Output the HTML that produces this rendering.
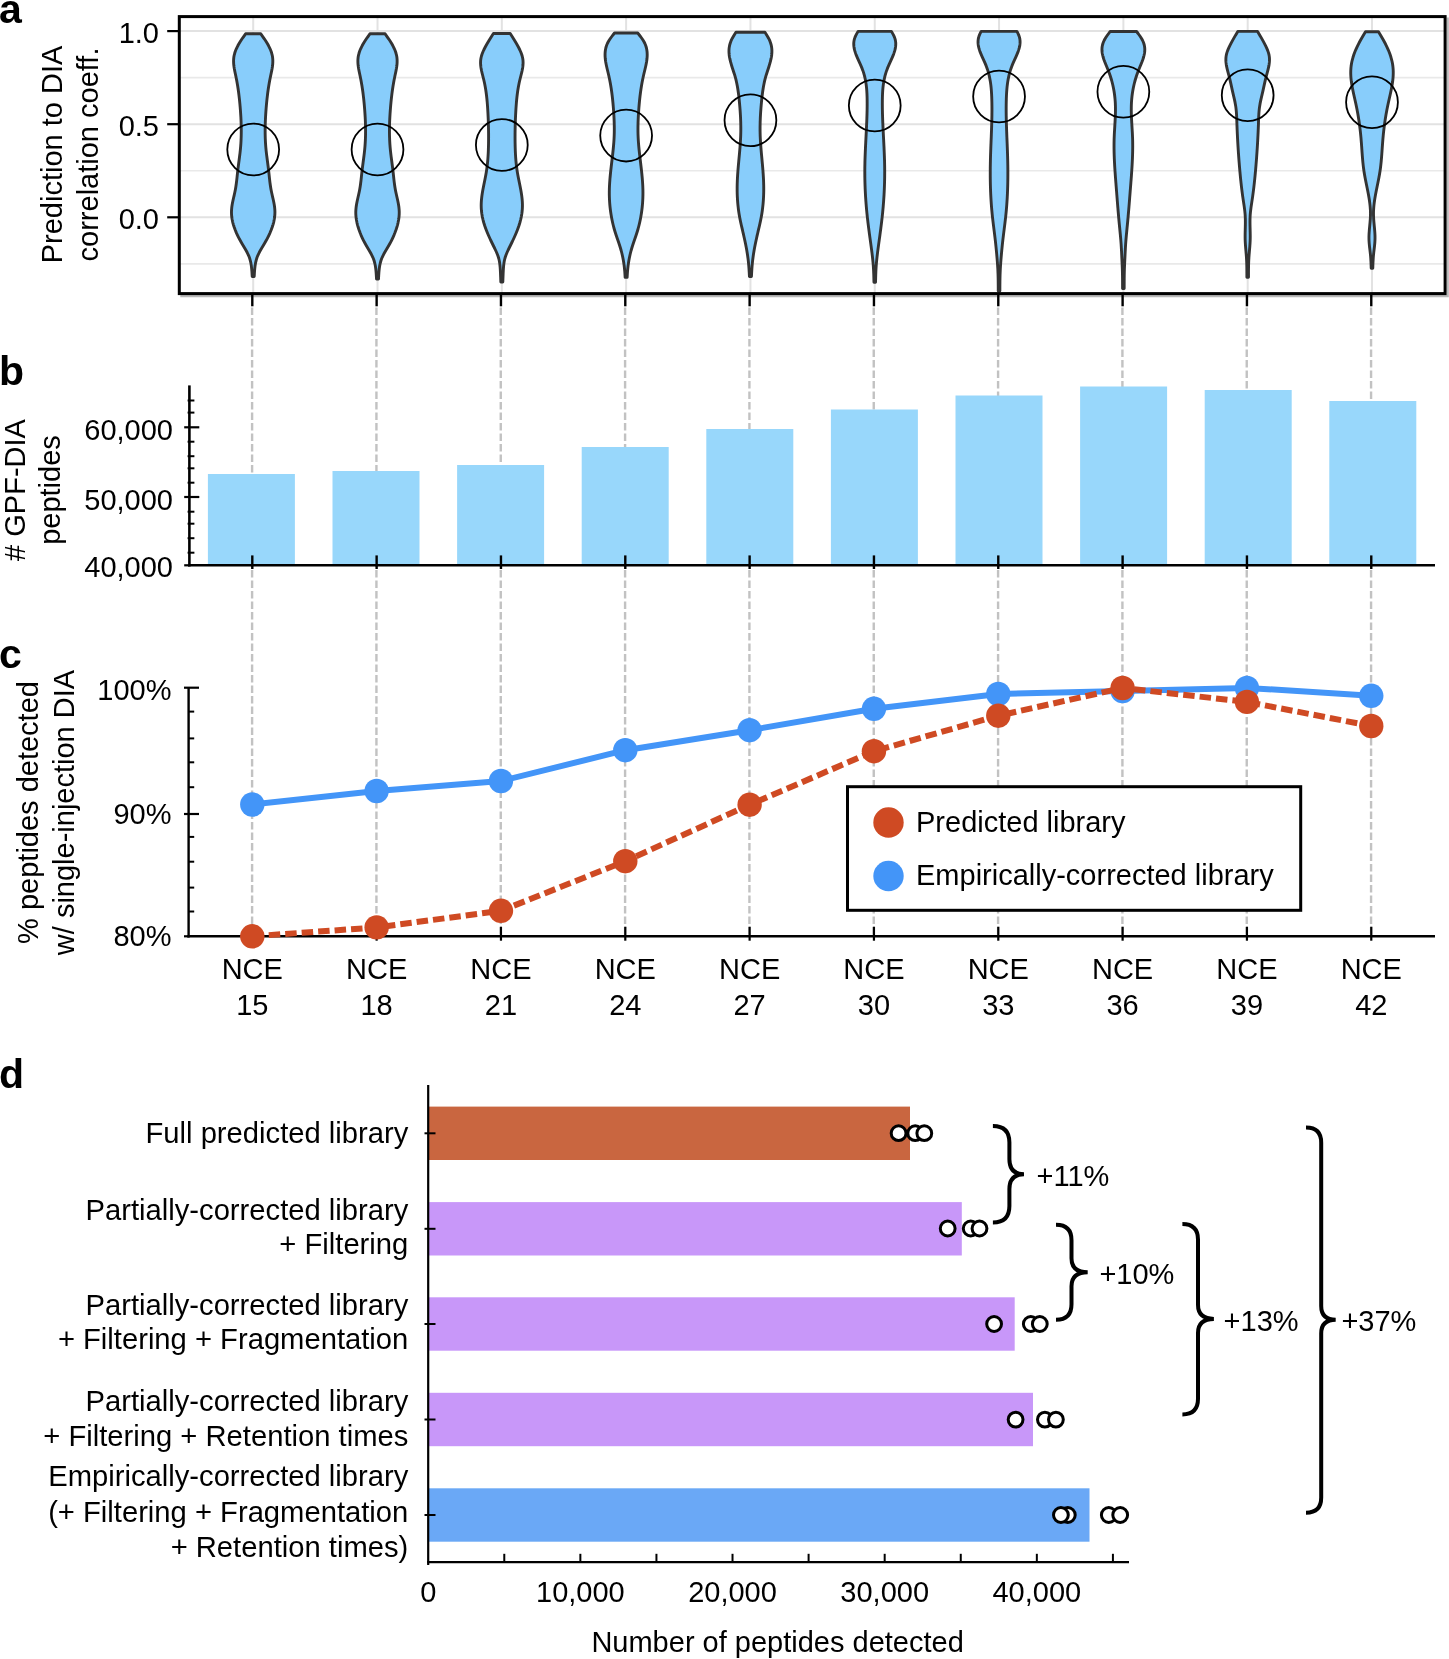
<!DOCTYPE html>
<html><head><meta charset="utf-8"><style>
html,body{margin:0;padding:0;background:#fff;width:1449px;height:1659px;overflow:hidden}
svg{display:block;will-change:transform}
text{font-family:"Liberation Sans", sans-serif;fill:#000}
</style></head><body>
<svg width="1449" height="1659" viewBox="0 0 1449 1659">
<text x="-1" y="22.6" font-size="41" text-anchor="start" font-weight="bold" >a</text>
<text x="-1" y="384.5" font-size="41" text-anchor="start" font-weight="bold" >b</text>
<text x="-1" y="667.8" font-size="41" text-anchor="start" font-weight="bold" >c</text>
<text x="-1" y="1087.5" font-size="41" text-anchor="start" font-weight="bold" >d</text>
<line x1="179.3" y1="31.1" x2="1445.1" y2="31.1" stroke="#e2e2e2" stroke-width="2" />
<line x1="179.3" y1="124.2" x2="1445.1" y2="124.2" stroke="#e2e2e2" stroke-width="2" />
<line x1="179.3" y1="217.3" x2="1445.1" y2="217.3" stroke="#e2e2e2" stroke-width="2" />
<line x1="179.3" y1="77.65" x2="1445.1" y2="77.65" stroke="#e9e9e9" stroke-width="1.6" />
<line x1="179.3" y1="170.75" x2="1445.1" y2="170.75" stroke="#e9e9e9" stroke-width="1.6" />
<line x1="179.3" y1="263.85" x2="1445.1" y2="263.85" stroke="#e9e9e9" stroke-width="1.6" />
<line x1="253.2" y1="16.6" x2="253.2" y2="293.6" stroke="#e2e2e2" stroke-width="2" />
<line x1="377.51" y1="16.6" x2="377.51" y2="293.6" stroke="#e2e2e2" stroke-width="2" />
<line x1="501.82" y1="16.6" x2="501.82" y2="293.6" stroke="#e2e2e2" stroke-width="2" />
<line x1="626.13" y1="16.6" x2="626.13" y2="293.6" stroke="#e2e2e2" stroke-width="2" />
<line x1="750.44" y1="16.6" x2="750.44" y2="293.6" stroke="#e2e2e2" stroke-width="2" />
<line x1="874.75" y1="16.6" x2="874.75" y2="293.6" stroke="#e2e2e2" stroke-width="2" />
<line x1="999.06" y1="16.6" x2="999.06" y2="293.6" stroke="#e2e2e2" stroke-width="2" />
<line x1="1123.37" y1="16.6" x2="1123.37" y2="293.6" stroke="#e2e2e2" stroke-width="2" />
<line x1="1247.68" y1="16.6" x2="1247.68" y2="293.6" stroke="#e2e2e2" stroke-width="2" />
<line x1="1371.99" y1="16.6" x2="1371.99" y2="293.6" stroke="#e2e2e2" stroke-width="2" />
<path d="M260.8,33.8 L261.86,35.3 L262.91,36.8 L263.95,38.3 L264.96,39.8 L265.93,41.3 L266.87,42.8 L267.76,44.3 L268.59,45.8 L269.36,47.3 L270.06,48.8 L270.69,50.3 L271.24,51.8 L271.71,53.3 L272.11,54.8 L272.42,56.3 L272.64,57.8 L272.77,59.3 L272.82,60.8 L272.8,62.3 L272.72,63.8 L272.58,65.3 L272.39,66.8 L272.16,68.3 L271.89,69.8 L271.6,71.3 L271.29,72.8 L270.97,74.3 L270.65,75.8 L270.34,77.3 L270.04,78.8 L269.74,80.3 L269.47,81.8 L269.2,83.3 L268.94,84.8 L268.69,86.3 L268.46,87.8 L268.23,89.3 L268.02,90.8 L267.81,92.3 L267.61,93.8 L267.43,95.3 L267.25,96.8 L267.08,98.3 L266.91,99.8 L266.76,101.3 L266.61,102.8 L266.47,104.3 L266.34,105.8 L266.21,107.3 L266.09,108.8 L265.98,110.3 L265.87,111.8 L265.77,113.3 L265.67,114.8 L265.58,116.3 L265.5,117.8 L265.43,119.3 L265.36,120.8 L265.31,122.3 L265.26,123.8 L265.22,125.3 L265.18,126.8 L265.16,128.3 L265.15,129.8 L265.15,131.3 L265.15,132.8 L265.17,134.3 L265.2,135.8 L265.24,137.3 L265.3,138.8 L265.36,140.3 L265.44,141.8 L265.52,143.3 L265.63,144.8 L265.74,146.3 L265.87,147.8 L266.01,149.3 L266.16,150.8 L266.33,152.3 L266.5,153.8 L266.68,155.3 L266.87,156.8 L267.06,158.3 L267.25,159.8 L267.45,161.3 L267.65,162.8 L267.84,164.3 L268.04,165.8 L268.23,167.3 L268.42,168.8 L268.6,170.3 L268.78,171.8 L268.94,173.3 L269.11,174.8 L269.26,176.3 L269.42,177.8 L269.59,179.3 L269.75,180.8 L269.93,182.3 L270.12,183.8 L270.33,185.3 L270.55,186.8 L270.79,188.3 L271.06,189.8 L271.36,191.3 L271.67,192.8 L272.01,194.3 L272.35,195.8 L272.7,197.3 L273.04,198.8 L273.37,200.3 L273.69,201.8 L273.98,203.3 L274.25,204.8 L274.48,206.3 L274.67,207.8 L274.81,209.3 L274.89,210.8 L274.92,212.3 L274.88,213.8 L274.79,215.3 L274.64,216.8 L274.44,218.3 L274.18,219.8 L273.88,221.3 L273.52,222.8 L273.11,224.3 L272.66,225.8 L272.17,227.3 L271.63,228.8 L271.06,230.3 L270.44,231.8 L269.79,233.3 L269.1,234.8 L268.38,236.3 L267.62,237.8 L266.84,239.3 L266.02,240.8 L265.18,242.3 L264.32,243.8 L263.43,245.3 L262.53,246.8 L261.63,248.3 L260.75,249.8 L259.9,251.3 L259.1,252.8 L258.35,254.3 L257.68,255.8 L257.1,257.3 L256.59,258.8 L256.16,260.3 L255.8,261.8 L255.49,263.3 L255.23,264.8 L255.01,266.3 L254.83,267.8 L254.68,269.3 L254.55,270.8 L254.44,272.3 L254.35,273.8 L254.26,275.3 L254.2,276.5 L252.2,276.5 L252.14,275.3 L252.05,273.8 L251.96,272.3 L251.85,270.8 L251.72,269.3 L251.57,267.8 L251.39,266.3 L251.17,264.8 L250.91,263.3 L250.6,261.8 L250.24,260.3 L249.81,258.8 L249.3,257.3 L248.72,255.8 L248.05,254.3 L247.3,252.8 L246.5,251.3 L245.65,249.8 L244.77,248.3 L243.87,246.8 L242.97,245.3 L242.08,243.8 L241.22,242.3 L240.38,240.8 L239.56,239.3 L238.78,237.8 L238.02,236.3 L237.3,234.8 L236.61,233.3 L235.96,231.8 L235.34,230.3 L234.77,228.8 L234.23,227.3 L233.74,225.8 L233.29,224.3 L232.88,222.8 L232.52,221.3 L232.22,219.8 L231.96,218.3 L231.76,216.8 L231.61,215.3 L231.52,213.8 L231.48,212.3 L231.51,210.8 L231.59,209.3 L231.73,207.8 L231.92,206.3 L232.15,204.8 L232.42,203.3 L232.71,201.8 L233.03,200.3 L233.36,198.8 L233.7,197.3 L234.05,195.8 L234.39,194.3 L234.73,192.8 L235.04,191.3 L235.34,189.8 L235.61,188.3 L235.85,186.8 L236.07,185.3 L236.28,183.8 L236.47,182.3 L236.65,180.8 L236.81,179.3 L236.98,177.8 L237.14,176.3 L237.29,174.8 L237.46,173.3 L237.62,171.8 L237.8,170.3 L237.98,168.8 L238.17,167.3 L238.36,165.8 L238.56,164.3 L238.75,162.8 L238.95,161.3 L239.15,159.8 L239.34,158.3 L239.53,156.8 L239.72,155.3 L239.9,153.8 L240.07,152.3 L240.24,150.8 L240.39,149.3 L240.53,147.8 L240.66,146.3 L240.77,144.8 L240.88,143.3 L240.96,141.8 L241.04,140.3 L241.1,138.8 L241.16,137.3 L241.2,135.8 L241.23,134.3 L241.25,132.8 L241.25,131.3 L241.25,129.8 L241.24,128.3 L241.22,126.8 L241.18,125.3 L241.14,123.8 L241.09,122.3 L241.04,120.8 L240.97,119.3 L240.9,117.8 L240.82,116.3 L240.73,114.8 L240.63,113.3 L240.53,111.8 L240.42,110.3 L240.31,108.8 L240.19,107.3 L240.06,105.8 L239.93,104.3 L239.79,102.8 L239.64,101.3 L239.49,99.8 L239.32,98.3 L239.15,96.8 L238.97,95.3 L238.79,93.8 L238.59,92.3 L238.38,90.8 L238.17,89.3 L237.94,87.8 L237.71,86.3 L237.46,84.8 L237.2,83.3 L236.93,81.8 L236.66,80.3 L236.36,78.8 L236.06,77.3 L235.75,75.8 L235.43,74.3 L235.11,72.8 L234.8,71.3 L234.51,69.8 L234.24,68.3 L234.01,66.8 L233.82,65.3 L233.68,63.8 L233.6,62.3 L233.58,60.8 L233.63,59.3 L233.76,57.8 L233.98,56.3 L234.29,54.8 L234.69,53.3 L235.16,51.8 L235.71,50.3 L236.34,48.8 L237.04,47.3 L237.81,45.8 L238.64,44.3 L239.53,42.8 L240.47,41.3 L241.44,39.8 L242.45,38.3 L243.49,36.8 L244.54,35.3 L245.6,33.8 Z" fill="#88cdfb" stroke="#333" stroke-width="2.9" stroke-linejoin="round"/>
<path d="M385.11,33.8 L386.17,35.3 L387.22,36.8 L388.26,38.3 L389.27,39.8 L390.24,41.3 L391.18,42.8 L392.07,44.3 L392.9,45.8 L393.67,47.3 L394.37,48.8 L395,50.3 L395.55,51.8 L396.02,53.3 L396.42,54.8 L396.73,56.3 L396.95,57.8 L397.08,59.3 L397.13,60.8 L397.11,62.3 L397.03,63.8 L396.89,65.3 L396.7,66.8 L396.47,68.3 L396.2,69.8 L395.91,71.3 L395.6,72.8 L395.28,74.3 L394.96,75.8 L394.65,77.3 L394.35,78.8 L394.05,80.3 L393.78,81.8 L393.51,83.3 L393.25,84.8 L393,86.3 L392.77,87.8 L392.54,89.3 L392.33,90.8 L392.12,92.3 L391.92,93.8 L391.74,95.3 L391.56,96.8 L391.39,98.3 L391.22,99.8 L391.07,101.3 L390.92,102.8 L390.78,104.3 L390.65,105.8 L390.52,107.3 L390.4,108.8 L390.29,110.3 L390.18,111.8 L390.08,113.3 L389.98,114.8 L389.89,116.3 L389.81,117.8 L389.74,119.3 L389.67,120.8 L389.62,122.3 L389.57,123.8 L389.53,125.3 L389.49,126.8 L389.47,128.3 L389.46,129.8 L389.46,131.3 L389.47,132.8 L389.48,134.3 L389.51,135.8 L389.55,137.3 L389.61,138.8 L389.67,140.3 L389.75,141.8 L389.84,143.3 L389.94,144.8 L390.05,146.3 L390.18,147.8 L390.32,149.3 L390.47,150.8 L390.64,152.3 L390.81,153.8 L390.99,155.3 L391.17,156.8 L391.36,158.3 L391.56,159.8 L391.76,161.3 L391.95,162.8 L392.15,164.3 L392.35,165.8 L392.54,167.3 L392.73,168.8 L392.91,170.3 L393.09,171.8 L393.26,173.3 L393.42,174.8 L393.58,176.3 L393.74,177.8 L393.9,179.3 L394.07,180.8 L394.25,182.3 L394.44,183.8 L394.64,185.3 L394.86,186.8 L395.11,188.3 L395.37,189.8 L395.66,191.3 L395.98,192.8 L396.31,194.3 L396.65,195.8 L396.99,197.3 L397.33,198.8 L397.66,200.3 L397.98,201.8 L398.27,203.3 L398.54,204.8 L398.77,206.3 L398.96,207.8 L399.11,209.3 L399.2,210.8 L399.24,212.3 L399.22,213.8 L399.14,215.3 L399.01,216.8 L398.84,218.3 L398.61,219.8 L398.33,221.3 L398.02,222.8 L397.66,224.3 L397.26,225.8 L396.82,227.3 L396.35,228.8 L395.84,230.3 L395.29,231.8 L394.72,233.3 L394.11,234.8 L393.46,236.3 L392.78,237.8 L392.07,239.3 L391.33,240.8 L390.55,242.3 L389.75,243.8 L388.91,245.3 L388.04,246.8 L387.16,248.3 L386.26,249.8 L385.37,251.3 L384.51,252.8 L383.68,254.3 L382.91,255.8 L382.21,257.3 L381.59,258.8 L381.06,260.3 L380.6,261.8 L380.22,263.3 L379.89,264.8 L379.62,266.3 L379.39,267.8 L379.2,269.3 L379.04,270.8 L378.91,272.3 L378.8,273.8 L378.7,275.3 L378.62,276.8 L378.54,278.3 L378.51,279 L376.51,279 L376.48,278.3 L376.4,276.8 L376.32,275.3 L376.22,273.8 L376.11,272.3 L375.98,270.8 L375.82,269.3 L375.63,267.8 L375.4,266.3 L375.13,264.8 L374.8,263.3 L374.42,261.8 L373.96,260.3 L373.43,258.8 L372.81,257.3 L372.11,255.8 L371.34,254.3 L370.51,252.8 L369.65,251.3 L368.76,249.8 L367.86,248.3 L366.98,246.8 L366.11,245.3 L365.27,243.8 L364.47,242.3 L363.69,240.8 L362.95,239.3 L362.24,237.8 L361.56,236.3 L360.91,234.8 L360.3,233.3 L359.73,231.8 L359.18,230.3 L358.67,228.8 L358.2,227.3 L357.76,225.8 L357.36,224.3 L357,222.8 L356.69,221.3 L356.41,219.8 L356.18,218.3 L356.01,216.8 L355.88,215.3 L355.8,213.8 L355.78,212.3 L355.82,210.8 L355.91,209.3 L356.06,207.8 L356.25,206.3 L356.48,204.8 L356.75,203.3 L357.04,201.8 L357.36,200.3 L357.69,198.8 L358.03,197.3 L358.37,195.8 L358.71,194.3 L359.04,192.8 L359.36,191.3 L359.65,189.8 L359.91,188.3 L360.16,186.8 L360.38,185.3 L360.58,183.8 L360.77,182.3 L360.95,180.8 L361.12,179.3 L361.28,177.8 L361.44,176.3 L361.6,174.8 L361.76,173.3 L361.93,171.8 L362.11,170.3 L362.29,168.8 L362.48,167.3 L362.67,165.8 L362.87,164.3 L363.07,162.8 L363.26,161.3 L363.46,159.8 L363.66,158.3 L363.85,156.8 L364.03,155.3 L364.21,153.8 L364.38,152.3 L364.55,150.8 L364.7,149.3 L364.84,147.8 L364.97,146.3 L365.08,144.8 L365.18,143.3 L365.27,141.8 L365.35,140.3 L365.41,138.8 L365.47,137.3 L365.51,135.8 L365.54,134.3 L365.55,132.8 L365.56,131.3 L365.56,129.8 L365.55,128.3 L365.53,126.8 L365.49,125.3 L365.45,123.8 L365.4,122.3 L365.35,120.8 L365.28,119.3 L365.21,117.8 L365.13,116.3 L365.04,114.8 L364.94,113.3 L364.84,111.8 L364.73,110.3 L364.62,108.8 L364.5,107.3 L364.37,105.8 L364.24,104.3 L364.1,102.8 L363.95,101.3 L363.8,99.8 L363.63,98.3 L363.46,96.8 L363.28,95.3 L363.1,93.8 L362.9,92.3 L362.69,90.8 L362.48,89.3 L362.25,87.8 L362.02,86.3 L361.77,84.8 L361.51,83.3 L361.24,81.8 L360.97,80.3 L360.67,78.8 L360.37,77.3 L360.06,75.8 L359.74,74.3 L359.42,72.8 L359.11,71.3 L358.82,69.8 L358.55,68.3 L358.32,66.8 L358.13,65.3 L357.99,63.8 L357.91,62.3 L357.89,60.8 L357.94,59.3 L358.07,57.8 L358.29,56.3 L358.6,54.8 L359,53.3 L359.47,51.8 L360.02,50.3 L360.65,48.8 L361.35,47.3 L362.12,45.8 L362.95,44.3 L363.84,42.8 L364.78,41.3 L365.75,39.8 L366.76,38.3 L367.8,36.8 L368.85,35.3 L369.91,33.8 Z" fill="#88cdfb" stroke="#333" stroke-width="2.9" stroke-linejoin="round"/>
<path d="M510.22,33.5 L511.18,35 L512.13,36.5 L513.07,38 L514.01,39.5 L514.92,41 L515.82,42.5 L516.7,44 L517.54,45.5 L518.36,47 L519.14,48.5 L519.87,50 L520.55,51.5 L521.16,53 L521.71,54.5 L522.17,56 L522.54,57.5 L522.82,59 L523,60.5 L523.07,62 L523.07,63.5 L522.98,65 L522.82,66.5 L522.61,68 L522.34,69.5 L522.04,71 L521.7,72.5 L521.33,74 L520.95,75.5 L520.57,77 L520.19,78.5 L519.82,80 L519.47,81.5 L519.14,83 L518.84,84.5 L518.55,86 L518.28,87.5 L518.03,89 L517.79,90.5 L517.57,92 L517.37,93.5 L517.18,95 L517,96.5 L516.84,98 L516.68,99.5 L516.54,101 L516.41,102.5 L516.29,104 L516.18,105.5 L516.07,107 L515.97,108.5 L515.88,110 L515.79,111.5 L515.71,113 L515.63,114.5 L515.56,116 L515.49,117.5 L515.42,119 L515.36,120.5 L515.31,122 L515.26,123.5 L515.22,125 L515.18,126.5 L515.15,128 L515.12,129.5 L515.09,131 L515.08,132.5 L515.06,134 L515.06,135.5 L515.05,137 L515.06,138.5 L515.07,140 L515.08,141.5 L515.1,143 L515.13,144.5 L515.16,146 L515.2,147.5 L515.25,149 L515.3,150.5 L515.36,152 L515.43,153.5 L515.52,155 L515.61,156.5 L515.71,158 L515.83,159.5 L515.95,161 L516.09,162.5 L516.25,164 L516.41,165.5 L516.6,167 L516.79,168.5 L517.01,170 L517.24,171.5 L517.49,173 L517.75,174.5 L518.03,176 L518.32,177.5 L518.61,179 L518.92,180.5 L519.22,182 L519.53,183.5 L519.83,185 L520.13,186.5 L520.42,188 L520.71,189.5 L520.98,191 L521.23,192.5 L521.47,194 L521.69,195.5 L521.88,197 L522.05,198.5 L522.2,200 L522.31,201.5 L522.39,203 L522.43,204.5 L522.44,206 L522.4,207.5 L522.33,209 L522.21,210.5 L522.05,212 L521.86,213.5 L521.62,215 L521.35,216.5 L521.04,218 L520.7,219.5 L520.32,221 L519.91,222.5 L519.46,224 L518.99,225.5 L518.48,227 L517.94,228.5 L517.37,230 L516.78,231.5 L516.17,233 L515.53,234.5 L514.87,236 L514.2,237.5 L513.51,239 L512.8,240.5 L512.08,242 L511.36,243.5 L510.62,245 L509.88,246.5 L509.14,248 L508.42,249.5 L507.71,251 L507.04,252.5 L506.42,254 L505.84,255.5 L505.32,257 L504.88,258.5 L504.51,260 L504.21,261.5 L503.96,263 L503.76,264.5 L503.61,266 L503.48,267.5 L503.38,269 L503.29,270.5 L503.21,272 L503.14,273.5 L503.08,275 L503.02,276.5 L502.96,278 L502.91,279.5 L502.85,281 L502.82,282 L500.82,282 L500.79,281 L500.73,279.5 L500.68,278 L500.62,276.5 L500.56,275 L500.5,273.5 L500.43,272 L500.35,270.5 L500.26,269 L500.16,267.5 L500.03,266 L499.88,264.5 L499.68,263 L499.43,261.5 L499.13,260 L498.76,258.5 L498.32,257 L497.8,255.5 L497.22,254 L496.6,252.5 L495.93,251 L495.22,249.5 L494.5,248 L493.76,246.5 L493.02,245 L492.28,243.5 L491.56,242 L490.84,240.5 L490.13,239 L489.44,237.5 L488.77,236 L488.11,234.5 L487.47,233 L486.86,231.5 L486.27,230 L485.7,228.5 L485.16,227 L484.65,225.5 L484.18,224 L483.73,222.5 L483.32,221 L482.94,219.5 L482.6,218 L482.29,216.5 L482.02,215 L481.78,213.5 L481.59,212 L481.43,210.5 L481.31,209 L481.24,207.5 L481.2,206 L481.21,204.5 L481.25,203 L481.33,201.5 L481.44,200 L481.59,198.5 L481.76,197 L481.95,195.5 L482.17,194 L482.41,192.5 L482.66,191 L482.93,189.5 L483.22,188 L483.51,186.5 L483.81,185 L484.11,183.5 L484.42,182 L484.72,180.5 L485.03,179 L485.32,177.5 L485.61,176 L485.89,174.5 L486.15,173 L486.4,171.5 L486.63,170 L486.85,168.5 L487.04,167 L487.23,165.5 L487.39,164 L487.55,162.5 L487.69,161 L487.81,159.5 L487.93,158 L488.03,156.5 L488.12,155 L488.21,153.5 L488.28,152 L488.34,150.5 L488.39,149 L488.44,147.5 L488.48,146 L488.51,144.5 L488.54,143 L488.56,141.5 L488.57,140 L488.58,138.5 L488.59,137 L488.58,135.5 L488.58,134 L488.56,132.5 L488.55,131 L488.52,129.5 L488.49,128 L488.46,126.5 L488.42,125 L488.38,123.5 L488.33,122 L488.28,120.5 L488.22,119 L488.15,117.5 L488.08,116 L488.01,114.5 L487.93,113 L487.85,111.5 L487.76,110 L487.67,108.5 L487.57,107 L487.46,105.5 L487.35,104 L487.23,102.5 L487.1,101 L486.96,99.5 L486.8,98 L486.64,96.5 L486.46,95 L486.27,93.5 L486.07,92 L485.85,90.5 L485.61,89 L485.36,87.5 L485.09,86 L484.8,84.5 L484.5,83 L484.17,81.5 L483.82,80 L483.45,78.5 L483.07,77 L482.69,75.5 L482.31,74 L481.94,72.5 L481.6,71 L481.3,69.5 L481.03,68 L480.82,66.5 L480.66,65 L480.57,63.5 L480.57,62 L480.64,60.5 L480.82,59 L481.1,57.5 L481.47,56 L481.93,54.5 L482.48,53 L483.09,51.5 L483.77,50 L484.5,48.5 L485.28,47 L486.1,45.5 L486.94,44 L487.82,42.5 L488.72,41 L489.63,39.5 L490.57,38 L491.51,36.5 L492.46,35 L493.42,33.5 Z" fill="#88cdfb" stroke="#333" stroke-width="2.9" stroke-linejoin="round"/>
<path d="M637.73,33 L638.92,34.5 L640.09,36 L641.22,37.5 L642.28,39 L643.26,40.5 L644.13,42 L644.88,43.5 L645.51,45 L646.03,46.5 L646.44,48 L646.75,49.5 L646.98,51 L647.12,52.5 L647.19,54 L647.19,55.5 L647.13,57 L647.01,58.5 L646.83,60 L646.62,61.5 L646.36,63 L646.07,64.5 L645.76,66 L645.42,67.5 L645.07,69 L644.71,70.5 L644.34,72 L643.98,73.5 L643.63,75 L643.29,76.5 L642.97,78 L642.66,79.5 L642.36,81 L642.07,82.5 L641.8,84 L641.54,85.5 L641.3,87 L641.06,88.5 L640.84,90 L640.62,91.5 L640.42,93 L640.23,94.5 L640.04,96 L639.87,97.5 L639.7,99 L639.55,100.5 L639.4,102 L639.26,103.5 L639.13,105 L639,106.5 L638.88,108 L638.77,109.5 L638.66,111 L638.56,112.5 L638.46,114 L638.37,115.5 L638.29,117 L638.22,118.5 L638.15,120 L638.1,121.5 L638.05,123 L638.01,124.5 L637.98,126 L637.97,127.5 L637.96,129 L637.97,130.5 L637.98,132 L638.01,133.5 L638.05,135 L638.11,136.5 L638.18,138 L638.26,139.5 L638.35,141 L638.46,142.5 L638.57,144 L638.7,145.5 L638.84,147 L638.98,148.5 L639.13,150 L639.29,151.5 L639.45,153 L639.62,154.5 L639.79,156 L639.96,157.5 L640.14,159 L640.32,160.5 L640.5,162 L640.68,163.5 L640.85,165 L641.03,166.5 L641.2,168 L641.37,169.5 L641.54,171 L641.7,172.5 L641.86,174 L642,175.5 L642.14,177 L642.28,178.5 L642.4,180 L642.51,181.5 L642.61,183 L642.7,184.5 L642.78,186 L642.84,187.5 L642.89,189 L642.92,190.5 L642.94,192 L642.94,193.5 L642.93,195 L642.89,196.5 L642.85,198 L642.78,199.5 L642.7,201 L642.6,202.5 L642.49,204 L642.36,205.5 L642.21,207 L642.04,208.5 L641.86,210 L641.66,211.5 L641.45,213 L641.21,214.5 L640.96,216 L640.69,217.5 L640.41,219 L640.1,220.5 L639.78,222 L639.44,223.5 L639.08,225 L638.7,226.5 L638.3,228 L637.88,229.5 L637.44,231 L636.97,232.5 L636.49,234 L636,235.5 L635.49,237 L634.98,238.5 L634.46,240 L633.94,241.5 L633.43,243 L632.93,244.5 L632.45,246 L631.98,247.5 L631.54,249 L631.11,250.5 L630.72,252 L630.34,253.5 L629.99,255 L629.66,256.5 L629.35,258 L629.06,259.5 L628.8,261 L628.55,262.5 L628.33,264 L628.12,265.5 L627.94,267 L627.77,268.5 L627.63,270 L627.5,271.5 L627.39,273 L627.3,274.5 L627.21,276 L627.13,277.3 L625.13,277.3 L625.05,276 L624.96,274.5 L624.87,273 L624.76,271.5 L624.63,270 L624.49,268.5 L624.32,267 L624.14,265.5 L623.93,264 L623.71,262.5 L623.46,261 L623.2,259.5 L622.91,258 L622.6,256.5 L622.27,255 L621.92,253.5 L621.54,252 L621.15,250.5 L620.72,249 L620.28,247.5 L619.81,246 L619.33,244.5 L618.83,243 L618.32,241.5 L617.8,240 L617.28,238.5 L616.77,237 L616.26,235.5 L615.77,234 L615.29,232.5 L614.82,231 L614.38,229.5 L613.96,228 L613.56,226.5 L613.18,225 L612.82,223.5 L612.48,222 L612.16,220.5 L611.85,219 L611.57,217.5 L611.3,216 L611.05,214.5 L610.81,213 L610.6,211.5 L610.4,210 L610.22,208.5 L610.05,207 L609.9,205.5 L609.77,204 L609.66,202.5 L609.56,201 L609.48,199.5 L609.41,198 L609.37,196.5 L609.33,195 L609.32,193.5 L609.32,192 L609.34,190.5 L609.37,189 L609.42,187.5 L609.48,186 L609.56,184.5 L609.65,183 L609.75,181.5 L609.86,180 L609.98,178.5 L610.12,177 L610.26,175.5 L610.4,174 L610.56,172.5 L610.72,171 L610.89,169.5 L611.06,168 L611.23,166.5 L611.41,165 L611.58,163.5 L611.76,162 L611.94,160.5 L612.12,159 L612.3,157.5 L612.47,156 L612.64,154.5 L612.81,153 L612.97,151.5 L613.13,150 L613.28,148.5 L613.42,147 L613.56,145.5 L613.69,144 L613.8,142.5 L613.91,141 L614,139.5 L614.08,138 L614.15,136.5 L614.21,135 L614.25,133.5 L614.28,132 L614.29,130.5 L614.3,129 L614.29,127.5 L614.28,126 L614.25,124.5 L614.21,123 L614.16,121.5 L614.11,120 L614.04,118.5 L613.97,117 L613.89,115.5 L613.8,114 L613.7,112.5 L613.6,111 L613.49,109.5 L613.38,108 L613.26,106.5 L613.13,105 L613,103.5 L612.86,102 L612.71,100.5 L612.56,99 L612.39,97.5 L612.22,96 L612.03,94.5 L611.84,93 L611.64,91.5 L611.42,90 L611.2,88.5 L610.96,87 L610.72,85.5 L610.46,84 L610.19,82.5 L609.9,81 L609.6,79.5 L609.29,78 L608.97,76.5 L608.63,75 L608.28,73.5 L607.92,72 L607.55,70.5 L607.19,69 L606.84,67.5 L606.5,66 L606.19,64.5 L605.9,63 L605.64,61.5 L605.43,60 L605.25,58.5 L605.13,57 L605.07,55.5 L605.07,54 L605.14,52.5 L605.28,51 L605.51,49.5 L605.82,48 L606.23,46.5 L606.75,45 L607.38,43.5 L608.13,42 L609,40.5 L609.98,39 L611.04,37.5 L612.17,36 L613.34,34.5 L614.53,33 Z" fill="#88cdfb" stroke="#333" stroke-width="2.9" stroke-linejoin="round"/>
<path d="M764.94,32.2 L765.89,33.7 L766.82,35.2 L767.71,36.7 L768.55,38.2 L769.3,39.7 L769.96,41.2 L770.51,42.7 L770.97,44.2 L771.34,45.7 L771.61,47.2 L771.79,48.7 L771.89,50.2 L771.9,51.7 L771.84,53.2 L771.71,54.7 L771.51,56.2 L771.26,57.7 L770.95,59.2 L770.6,60.7 L770.22,62.2 L769.8,63.7 L769.35,65.2 L768.89,66.7 L768.41,68.2 L767.92,69.7 L767.43,71.2 L766.95,72.7 L766.47,74.2 L766.02,75.7 L765.58,77.2 L765.18,78.7 L764.8,80.2 L764.45,81.7 L764.12,83.2 L763.82,84.7 L763.53,86.2 L763.27,87.7 L763.03,89.2 L762.8,90.7 L762.59,92.2 L762.39,93.7 L762.2,95.2 L762.03,96.7 L761.86,98.2 L761.71,99.7 L761.56,101.2 L761.42,102.7 L761.28,104.2 L761.15,105.7 L761.02,107.2 L760.9,108.7 L760.79,110.2 L760.68,111.7 L760.58,113.2 L760.49,114.7 L760.41,116.2 L760.33,117.7 L760.27,119.2 L760.21,120.7 L760.16,122.2 L760.13,123.7 L760.1,125.2 L760.08,126.7 L760.07,128.2 L760.07,129.7 L760.08,131.2 L760.11,132.7 L760.15,134.2 L760.19,135.7 L760.25,137.2 L760.32,138.7 L760.4,140.2 L760.49,141.7 L760.58,143.2 L760.69,144.7 L760.8,146.2 L760.91,147.7 L761.04,149.2 L761.16,150.7 L761.29,152.2 L761.42,153.7 L761.56,155.2 L761.7,156.7 L761.84,158.2 L761.98,159.7 L762.11,161.2 L762.25,162.7 L762.39,164.2 L762.52,165.7 L762.65,167.2 L762.78,168.7 L762.9,170.2 L763.01,171.7 L763.12,173.2 L763.23,174.7 L763.32,176.2 L763.41,177.7 L763.49,179.2 L763.56,180.7 L763.61,182.2 L763.66,183.7 L763.7,185.2 L763.72,186.7 L763.73,188.2 L763.73,189.7 L763.72,191.2 L763.69,192.7 L763.65,194.2 L763.6,195.7 L763.53,197.2 L763.45,198.7 L763.36,200.2 L763.25,201.7 L763.13,203.2 L762.99,204.7 L762.83,206.2 L762.66,207.7 L762.48,209.2 L762.28,210.7 L762.06,212.2 L761.83,213.7 L761.57,215.2 L761.31,216.7 L761.02,218.2 L760.73,219.7 L760.42,221.2 L760.1,222.7 L759.77,224.2 L759.43,225.7 L759.09,227.2 L758.74,228.7 L758.39,230.2 L758.04,231.7 L757.7,233.2 L757.35,234.7 L757,236.2 L756.66,237.7 L756.33,239.2 L756,240.7 L755.68,242.2 L755.36,243.7 L755.06,245.2 L754.77,246.7 L754.48,248.2 L754.21,249.7 L753.96,251.2 L753.71,252.7 L753.47,254.2 L753.25,255.7 L753.05,257.2 L752.85,258.7 L752.67,260.2 L752.5,261.7 L752.35,263.2 L752.21,264.7 L752.08,266.2 L751.96,267.7 L751.86,269.2 L751.76,270.7 L751.67,272.2 L751.59,273.7 L751.51,275.2 L751.44,276.5 L749.44,276.5 L749.37,275.2 L749.29,273.7 L749.21,272.2 L749.12,270.7 L749.02,269.2 L748.92,267.7 L748.8,266.2 L748.67,264.7 L748.53,263.2 L748.38,261.7 L748.21,260.2 L748.03,258.7 L747.83,257.2 L747.63,255.7 L747.41,254.2 L747.17,252.7 L746.92,251.2 L746.67,249.7 L746.4,248.2 L746.11,246.7 L745.82,245.2 L745.52,243.7 L745.2,242.2 L744.88,240.7 L744.55,239.2 L744.22,237.7 L743.88,236.2 L743.53,234.7 L743.18,233.2 L742.84,231.7 L742.49,230.2 L742.14,228.7 L741.79,227.2 L741.45,225.7 L741.11,224.2 L740.78,222.7 L740.46,221.2 L740.15,219.7 L739.86,218.2 L739.57,216.7 L739.31,215.2 L739.05,213.7 L738.82,212.2 L738.6,210.7 L738.4,209.2 L738.22,207.7 L738.05,206.2 L737.89,204.7 L737.75,203.2 L737.63,201.7 L737.52,200.2 L737.43,198.7 L737.35,197.2 L737.28,195.7 L737.23,194.2 L737.19,192.7 L737.16,191.2 L737.15,189.7 L737.15,188.2 L737.16,186.7 L737.18,185.2 L737.22,183.7 L737.27,182.2 L737.32,180.7 L737.39,179.2 L737.47,177.7 L737.56,176.2 L737.65,174.7 L737.76,173.2 L737.87,171.7 L737.98,170.2 L738.1,168.7 L738.23,167.2 L738.36,165.7 L738.49,164.2 L738.63,162.7 L738.77,161.2 L738.9,159.7 L739.04,158.2 L739.18,156.7 L739.32,155.2 L739.46,153.7 L739.59,152.2 L739.72,150.7 L739.84,149.2 L739.97,147.7 L740.08,146.2 L740.19,144.7 L740.3,143.2 L740.39,141.7 L740.48,140.2 L740.56,138.7 L740.63,137.2 L740.69,135.7 L740.73,134.2 L740.77,132.7 L740.8,131.2 L740.81,129.7 L740.81,128.2 L740.8,126.7 L740.78,125.2 L740.75,123.7 L740.72,122.2 L740.67,120.7 L740.61,119.2 L740.55,117.7 L740.47,116.2 L740.39,114.7 L740.3,113.2 L740.2,111.7 L740.09,110.2 L739.98,108.7 L739.86,107.2 L739.73,105.7 L739.6,104.2 L739.46,102.7 L739.32,101.2 L739.17,99.7 L739.02,98.2 L738.85,96.7 L738.68,95.2 L738.49,93.7 L738.29,92.2 L738.08,90.7 L737.85,89.2 L737.61,87.7 L737.35,86.2 L737.06,84.7 L736.76,83.2 L736.43,81.7 L736.08,80.2 L735.7,78.7 L735.3,77.2 L734.86,75.7 L734.41,74.2 L733.93,72.7 L733.45,71.2 L732.96,69.7 L732.47,68.2 L731.99,66.7 L731.53,65.2 L731.08,63.7 L730.66,62.2 L730.28,60.7 L729.93,59.2 L729.62,57.7 L729.37,56.2 L729.17,54.7 L729.04,53.2 L728.98,51.7 L728.99,50.2 L729.09,48.7 L729.27,47.2 L729.54,45.7 L729.91,44.2 L730.37,42.7 L730.92,41.2 L731.58,39.7 L732.33,38.2 L733.17,36.7 L734.06,35.2 L734.99,33.7 L735.94,32.2 Z" fill="#88cdfb" stroke="#333" stroke-width="2.9" stroke-linejoin="round"/>
<path d="M891.45,31.4 L892.3,32.9 L893.13,34.4 L893.88,35.9 L894.53,37.4 L895.04,38.9 L895.41,40.4 L895.64,41.9 L895.75,43.4 L895.73,44.9 L895.61,46.4 L895.39,47.9 L895.08,49.4 L894.69,50.9 L894.22,52.4 L893.7,53.9 L893.13,55.4 L892.51,56.9 L891.86,58.4 L891.19,59.9 L890.51,61.4 L889.83,62.9 L889.15,64.4 L888.49,65.9 L887.85,67.4 L887.25,68.9 L886.69,70.4 L886.18,71.9 L885.71,73.4 L885.28,74.9 L884.88,76.4 L884.53,77.9 L884.2,79.4 L883.91,80.9 L883.66,82.4 L883.43,83.9 L883.23,85.4 L883.05,86.9 L882.9,88.4 L882.77,89.9 L882.67,91.4 L882.58,92.9 L882.51,94.4 L882.45,95.9 L882.41,97.4 L882.38,98.9 L882.36,100.4 L882.35,101.9 L882.34,103.4 L882.35,104.9 L882.35,106.4 L882.37,107.9 L882.39,109.4 L882.42,110.9 L882.45,112.4 L882.49,113.9 L882.53,115.4 L882.58,116.9 L882.63,118.4 L882.68,119.9 L882.74,121.4 L882.8,122.9 L882.87,124.4 L882.94,125.9 L883.01,127.4 L883.08,128.9 L883.15,130.4 L883.23,131.9 L883.3,133.4 L883.38,134.9 L883.45,136.4 L883.53,137.9 L883.61,139.4 L883.69,140.9 L883.76,142.4 L883.84,143.9 L883.91,145.4 L883.99,146.9 L884.06,148.4 L884.12,149.9 L884.19,151.4 L884.25,152.9 L884.31,154.4 L884.37,155.9 L884.42,157.4 L884.47,158.9 L884.52,160.4 L884.56,161.9 L884.59,163.4 L884.62,164.9 L884.65,166.4 L884.67,167.9 L884.68,169.4 L884.69,170.9 L884.69,172.4 L884.68,173.9 L884.67,175.4 L884.66,176.9 L884.64,178.4 L884.61,179.9 L884.57,181.4 L884.54,182.9 L884.49,184.4 L884.44,185.9 L884.39,187.4 L884.33,188.9 L884.26,190.4 L884.19,191.9 L884.11,193.4 L884.03,194.9 L883.94,196.4 L883.84,197.9 L883.74,199.4 L883.64,200.9 L883.53,202.4 L883.41,203.9 L883.29,205.4 L883.17,206.9 L883.03,208.4 L882.9,209.9 L882.75,211.4 L882.61,212.9 L882.45,214.4 L882.3,215.9 L882.13,217.4 L881.97,218.9 L881.79,220.4 L881.62,221.9 L881.44,223.4 L881.25,224.9 L881.06,226.4 L880.87,227.9 L880.68,229.4 L880.48,230.9 L880.28,232.4 L880.08,233.9 L879.88,235.4 L879.68,236.9 L879.47,238.4 L879.26,239.9 L879.06,241.4 L878.85,242.9 L878.64,244.4 L878.44,245.9 L878.24,247.4 L878.04,248.9 L877.84,250.4 L877.65,251.9 L877.46,253.4 L877.28,254.9 L877.1,256.4 L876.94,257.9 L876.78,259.4 L876.63,260.9 L876.48,262.4 L876.35,263.9 L876.23,265.4 L876.12,266.9 L876.03,268.4 L875.94,269.9 L875.87,271.4 L875.81,272.9 L875.75,274.4 L875.7,275.9 L875.66,277.4 L875.62,278.9 L875.59,280.4 L875.56,281.9 L875.55,282.2 L873.95,282.2 L873.94,281.9 L873.91,280.4 L873.88,278.9 L873.84,277.4 L873.8,275.9 L873.75,274.4 L873.69,272.9 L873.63,271.4 L873.56,269.9 L873.47,268.4 L873.38,266.9 L873.27,265.4 L873.15,263.9 L873.02,262.4 L872.87,260.9 L872.72,259.4 L872.56,257.9 L872.4,256.4 L872.22,254.9 L872.04,253.4 L871.85,251.9 L871.66,250.4 L871.46,248.9 L871.26,247.4 L871.06,245.9 L870.86,244.4 L870.65,242.9 L870.44,241.4 L870.24,239.9 L870.03,238.4 L869.82,236.9 L869.62,235.4 L869.42,233.9 L869.22,232.4 L869.02,230.9 L868.82,229.4 L868.63,227.9 L868.44,226.4 L868.25,224.9 L868.06,223.4 L867.88,221.9 L867.71,220.4 L867.53,218.9 L867.37,217.4 L867.2,215.9 L867.05,214.4 L866.89,212.9 L866.75,211.4 L866.6,209.9 L866.47,208.4 L866.33,206.9 L866.21,205.4 L866.09,203.9 L865.97,202.4 L865.86,200.9 L865.76,199.4 L865.66,197.9 L865.56,196.4 L865.47,194.9 L865.39,193.4 L865.31,191.9 L865.24,190.4 L865.17,188.9 L865.11,187.4 L865.06,185.9 L865.01,184.4 L864.96,182.9 L864.93,181.4 L864.89,179.9 L864.86,178.4 L864.84,176.9 L864.83,175.4 L864.82,173.9 L864.81,172.4 L864.81,170.9 L864.82,169.4 L864.83,167.9 L864.85,166.4 L864.88,164.9 L864.91,163.4 L864.94,161.9 L864.98,160.4 L865.03,158.9 L865.08,157.4 L865.13,155.9 L865.19,154.4 L865.25,152.9 L865.31,151.4 L865.38,149.9 L865.44,148.4 L865.51,146.9 L865.59,145.4 L865.66,143.9 L865.74,142.4 L865.81,140.9 L865.89,139.4 L865.97,137.9 L866.05,136.4 L866.12,134.9 L866.2,133.4 L866.27,131.9 L866.35,130.4 L866.42,128.9 L866.49,127.4 L866.56,125.9 L866.63,124.4 L866.7,122.9 L866.76,121.4 L866.82,119.9 L866.87,118.4 L866.92,116.9 L866.97,115.4 L867.01,113.9 L867.05,112.4 L867.08,110.9 L867.11,109.4 L867.13,107.9 L867.15,106.4 L867.15,104.9 L867.16,103.4 L867.15,101.9 L867.14,100.4 L867.12,98.9 L867.09,97.4 L867.05,95.9 L866.99,94.4 L866.92,92.9 L866.83,91.4 L866.73,89.9 L866.6,88.4 L866.45,86.9 L866.27,85.4 L866.07,83.9 L865.84,82.4 L865.59,80.9 L865.3,79.4 L864.97,77.9 L864.62,76.4 L864.22,74.9 L863.79,73.4 L863.32,71.9 L862.81,70.4 L862.25,68.9 L861.65,67.4 L861.01,65.9 L860.35,64.4 L859.67,62.9 L858.99,61.4 L858.31,59.9 L857.64,58.4 L856.99,56.9 L856.37,55.4 L855.8,53.9 L855.28,52.4 L854.81,50.9 L854.42,49.4 L854.11,47.9 L853.89,46.4 L853.77,44.9 L853.75,43.4 L853.86,41.9 L854.09,40.4 L854.46,38.9 L854.97,37.4 L855.62,35.9 L856.37,34.4 L857.2,32.9 L858.05,31.4 Z" fill="#88cdfb" stroke="#333" stroke-width="2.9" stroke-linejoin="round"/>
<path d="M1016.96,31.4 L1017.71,32.9 L1018.42,34.4 L1019.02,35.9 L1019.49,37.4 L1019.82,38.9 L1020.01,40.4 L1020.08,41.9 L1020.03,43.4 L1019.87,44.9 L1019.61,46.4 L1019.26,47.9 L1018.84,49.4 L1018.35,50.9 L1017.8,52.4 L1017.2,53.9 L1016.57,55.4 L1015.91,56.9 L1015.23,58.4 L1014.54,59.9 L1013.86,61.4 L1013.19,62.9 L1012.55,64.4 L1011.94,65.9 L1011.37,67.4 L1010.84,68.9 L1010.36,70.4 L1009.9,71.9 L1009.49,73.4 L1009.11,74.9 L1008.76,76.4 L1008.44,77.9 L1008.15,79.4 L1007.88,80.9 L1007.65,82.4 L1007.44,83.9 L1007.25,85.4 L1007.08,86.9 L1006.94,88.4 L1006.81,89.9 L1006.7,91.4 L1006.6,92.9 L1006.51,94.4 L1006.44,95.9 L1006.38,97.4 L1006.33,98.9 L1006.29,100.4 L1006.25,101.9 L1006.22,103.4 L1006.2,104.9 L1006.18,106.4 L1006.17,107.9 L1006.17,109.4 L1006.17,110.9 L1006.18,112.4 L1006.2,113.9 L1006.21,115.4 L1006.24,116.9 L1006.27,118.4 L1006.3,119.9 L1006.34,121.4 L1006.38,122.9 L1006.42,124.4 L1006.47,125.9 L1006.52,127.4 L1006.57,128.9 L1006.62,130.4 L1006.68,131.9 L1006.74,133.4 L1006.79,134.9 L1006.85,136.4 L1006.91,137.9 L1006.97,139.4 L1007.04,140.9 L1007.1,142.4 L1007.16,143.9 L1007.22,145.4 L1007.28,146.9 L1007.33,148.4 L1007.39,149.9 L1007.44,151.4 L1007.49,152.9 L1007.54,154.4 L1007.59,155.9 L1007.63,157.4 L1007.67,158.9 L1007.71,160.4 L1007.74,161.9 L1007.77,163.4 L1007.8,164.9 L1007.82,166.4 L1007.84,167.9 L1007.85,169.4 L1007.86,170.9 L1007.86,172.4 L1007.86,173.9 L1007.86,175.4 L1007.85,176.9 L1007.84,178.4 L1007.82,179.9 L1007.8,181.4 L1007.77,182.9 L1007.74,184.4 L1007.7,185.9 L1007.66,187.4 L1007.61,188.9 L1007.56,190.4 L1007.5,191.9 L1007.44,193.4 L1007.37,194.9 L1007.29,196.4 L1007.21,197.9 L1007.13,199.4 L1007.03,200.9 L1006.93,202.4 L1006.83,203.9 L1006.72,205.4 L1006.6,206.9 L1006.48,208.4 L1006.35,209.9 L1006.21,211.4 L1006.07,212.9 L1005.92,214.4 L1005.77,215.9 L1005.6,217.4 L1005.43,218.9 L1005.26,220.4 L1005.08,221.9 L1004.9,223.4 L1004.72,224.9 L1004.53,226.4 L1004.34,227.9 L1004.16,229.4 L1003.97,230.9 L1003.78,232.4 L1003.59,233.9 L1003.41,235.4 L1003.23,236.9 L1003.05,238.4 L1002.87,239.9 L1002.7,241.4 L1002.54,242.9 L1002.37,244.4 L1002.22,245.9 L1002.07,247.4 L1001.92,248.9 L1001.77,250.4 L1001.63,251.9 L1001.49,253.4 L1001.36,254.9 L1001.23,256.4 L1001.1,257.9 L1000.97,259.4 L1000.85,260.9 L1000.74,262.4 L1000.63,263.9 L1000.53,265.4 L1000.43,266.9 L1000.34,268.4 L1000.26,269.9 L1000.2,271.4 L1000.14,272.9 L1000.08,274.4 L1000.04,275.9 L1000,277.4 L999.97,278.9 L999.94,280.4 L999.92,281.9 L999.91,283.4 L999.89,284.9 L999.88,286.4 L999.87,287.9 L999.87,289.4 L999.86,290.9 L999.86,291 L998.26,291 L998.26,290.9 L998.25,289.4 L998.25,287.9 L998.24,286.4 L998.23,284.9 L998.21,283.4 L998.2,281.9 L998.18,280.4 L998.15,278.9 L998.12,277.4 L998.08,275.9 L998.04,274.4 L997.98,272.9 L997.92,271.4 L997.86,269.9 L997.78,268.4 L997.69,266.9 L997.59,265.4 L997.49,263.9 L997.38,262.4 L997.27,260.9 L997.15,259.4 L997.02,257.9 L996.89,256.4 L996.76,254.9 L996.63,253.4 L996.49,251.9 L996.35,250.4 L996.2,248.9 L996.05,247.4 L995.9,245.9 L995.75,244.4 L995.58,242.9 L995.42,241.4 L995.25,239.9 L995.07,238.4 L994.89,236.9 L994.71,235.4 L994.53,233.9 L994.34,232.4 L994.15,230.9 L993.96,229.4 L993.78,227.9 L993.59,226.4 L993.4,224.9 L993.22,223.4 L993.04,221.9 L992.86,220.4 L992.69,218.9 L992.52,217.4 L992.35,215.9 L992.2,214.4 L992.05,212.9 L991.91,211.4 L991.77,209.9 L991.64,208.4 L991.52,206.9 L991.4,205.4 L991.29,203.9 L991.19,202.4 L991.09,200.9 L990.99,199.4 L990.91,197.9 L990.83,196.4 L990.75,194.9 L990.68,193.4 L990.62,191.9 L990.56,190.4 L990.51,188.9 L990.46,187.4 L990.42,185.9 L990.38,184.4 L990.35,182.9 L990.32,181.4 L990.3,179.9 L990.28,178.4 L990.27,176.9 L990.26,175.4 L990.26,173.9 L990.26,172.4 L990.26,170.9 L990.27,169.4 L990.28,167.9 L990.3,166.4 L990.32,164.9 L990.35,163.4 L990.38,161.9 L990.41,160.4 L990.45,158.9 L990.49,157.4 L990.53,155.9 L990.58,154.4 L990.63,152.9 L990.68,151.4 L990.73,149.9 L990.79,148.4 L990.84,146.9 L990.9,145.4 L990.96,143.9 L991.02,142.4 L991.08,140.9 L991.15,139.4 L991.21,137.9 L991.27,136.4 L991.33,134.9 L991.38,133.4 L991.44,131.9 L991.5,130.4 L991.55,128.9 L991.6,127.4 L991.65,125.9 L991.7,124.4 L991.74,122.9 L991.78,121.4 L991.82,119.9 L991.85,118.4 L991.88,116.9 L991.91,115.4 L991.92,113.9 L991.94,112.4 L991.95,110.9 L991.95,109.4 L991.95,107.9 L991.94,106.4 L991.92,104.9 L991.9,103.4 L991.87,101.9 L991.83,100.4 L991.79,98.9 L991.74,97.4 L991.68,95.9 L991.61,94.4 L991.52,92.9 L991.42,91.4 L991.31,89.9 L991.18,88.4 L991.04,86.9 L990.87,85.4 L990.68,83.9 L990.47,82.4 L990.24,80.9 L989.97,79.4 L989.68,77.9 L989.36,76.4 L989.01,74.9 L988.63,73.4 L988.22,71.9 L987.76,70.4 L987.28,68.9 L986.75,67.4 L986.18,65.9 L985.57,64.4 L984.93,62.9 L984.26,61.4 L983.58,59.9 L982.89,58.4 L982.21,56.9 L981.55,55.4 L980.92,53.9 L980.32,52.4 L979.77,50.9 L979.28,49.4 L978.86,47.9 L978.51,46.4 L978.25,44.9 L978.09,43.4 L978.04,41.9 L978.11,40.4 L978.3,38.9 L978.63,37.4 L979.1,35.9 L979.7,34.4 L980.41,32.9 L981.16,31.4 Z" fill="#88cdfb" stroke="#333" stroke-width="2.9" stroke-linejoin="round"/>
<path d="M1136.57,31.5 L1137.71,33 L1138.83,34.5 L1139.91,36 L1140.91,37.5 L1141.82,39 L1142.62,40.5 L1143.29,42 L1143.83,43.5 L1144.25,45 L1144.55,46.5 L1144.73,48 L1144.79,49.5 L1144.74,51 L1144.59,52.5 L1144.35,54 L1144.02,55.5 L1143.63,57 L1143.17,58.5 L1142.66,60 L1142.11,61.5 L1141.52,63 L1140.92,64.5 L1140.29,66 L1139.67,67.5 L1139.05,69 L1138.45,70.5 L1137.87,72 L1137.32,73.5 L1136.79,75 L1136.29,76.5 L1135.82,78 L1135.37,79.5 L1134.95,81 L1134.55,82.5 L1134.18,84 L1133.83,85.5 L1133.5,87 L1133.2,88.5 L1132.92,90 L1132.66,91.5 L1132.43,93 L1132.22,94.5 L1132.03,96 L1131.87,97.5 L1131.72,99 L1131.6,100.5 L1131.49,102 L1131.41,103.5 L1131.35,105 L1131.31,106.5 L1131.29,108 L1131.28,109.5 L1131.29,111 L1131.31,112.5 L1131.35,114 L1131.4,115.5 L1131.46,117 L1131.52,118.5 L1131.6,120 L1131.68,121.5 L1131.76,123 L1131.85,124.5 L1131.94,126 L1132.03,127.5 L1132.12,129 L1132.21,130.5 L1132.3,132 L1132.38,133.5 L1132.45,135 L1132.51,136.5 L1132.57,138 L1132.62,139.5 L1132.65,141 L1132.68,142.5 L1132.69,144 L1132.7,145.5 L1132.7,147 L1132.69,148.5 L1132.67,150 L1132.65,151.5 L1132.61,153 L1132.57,154.5 L1132.52,156 L1132.47,157.5 L1132.41,159 L1132.34,160.5 L1132.27,162 L1132.19,163.5 L1132.11,165 L1132.02,166.5 L1131.93,168 L1131.83,169.5 L1131.73,171 L1131.63,172.5 L1131.52,174 L1131.42,175.5 L1131.31,177 L1131.19,178.5 L1131.08,180 L1130.96,181.5 L1130.84,183 L1130.73,184.5 L1130.61,186 L1130.49,187.5 L1130.37,189 L1130.25,190.5 L1130.13,192 L1130.02,193.5 L1129.9,195 L1129.78,196.5 L1129.66,198 L1129.55,199.5 L1129.43,201 L1129.31,202.5 L1129.19,204 L1129.07,205.5 L1128.95,207 L1128.82,208.5 L1128.7,210 L1128.57,211.5 L1128.44,213 L1128.31,214.5 L1128.18,216 L1128.05,217.5 L1127.91,219 L1127.78,220.5 L1127.64,222 L1127.49,223.5 L1127.35,225 L1127.2,226.5 L1127.05,228 L1126.91,229.5 L1126.76,231 L1126.62,232.5 L1126.47,234 L1126.33,235.5 L1126.2,237 L1126.07,238.5 L1125.94,240 L1125.82,241.5 L1125.71,243 L1125.6,244.5 L1125.51,246 L1125.42,247.5 L1125.34,249 L1125.26,250.5 L1125.18,252 L1125.11,253.5 L1125.04,255 L1124.97,256.5 L1124.9,258 L1124.82,259.5 L1124.75,261 L1124.68,262.5 L1124.61,264 L1124.54,265.5 L1124.48,267 L1124.42,268.5 L1124.37,270 L1124.33,271.5 L1124.29,273 L1124.26,274.5 L1124.24,276 L1124.22,277.5 L1124.2,279 L1124.19,280.5 L1124.18,282 L1124.18,283.5 L1124.17,285 L1124.17,286.5 L1124.17,288 L1124.17,288.6 L1122.57,288.6 L1122.57,288 L1122.57,286.5 L1122.57,285 L1122.56,283.5 L1122.56,282 L1122.55,280.5 L1122.54,279 L1122.52,277.5 L1122.5,276 L1122.48,274.5 L1122.45,273 L1122.41,271.5 L1122.37,270 L1122.32,268.5 L1122.26,267 L1122.2,265.5 L1122.13,264 L1122.06,262.5 L1121.99,261 L1121.92,259.5 L1121.84,258 L1121.77,256.5 L1121.7,255 L1121.63,253.5 L1121.56,252 L1121.48,250.5 L1121.4,249 L1121.32,247.5 L1121.23,246 L1121.14,244.5 L1121.03,243 L1120.92,241.5 L1120.8,240 L1120.67,238.5 L1120.54,237 L1120.41,235.5 L1120.27,234 L1120.12,232.5 L1119.98,231 L1119.83,229.5 L1119.69,228 L1119.54,226.5 L1119.39,225 L1119.25,223.5 L1119.1,222 L1118.96,220.5 L1118.83,219 L1118.69,217.5 L1118.56,216 L1118.43,214.5 L1118.3,213 L1118.17,211.5 L1118.04,210 L1117.92,208.5 L1117.79,207 L1117.67,205.5 L1117.55,204 L1117.43,202.5 L1117.31,201 L1117.19,199.5 L1117.08,198 L1116.96,196.5 L1116.84,195 L1116.72,193.5 L1116.61,192 L1116.49,190.5 L1116.37,189 L1116.25,187.5 L1116.13,186 L1116.01,184.5 L1115.9,183 L1115.78,181.5 L1115.66,180 L1115.55,178.5 L1115.43,177 L1115.32,175.5 L1115.22,174 L1115.11,172.5 L1115.01,171 L1114.91,169.5 L1114.81,168 L1114.72,166.5 L1114.63,165 L1114.55,163.5 L1114.47,162 L1114.4,160.5 L1114.33,159 L1114.27,157.5 L1114.22,156 L1114.17,154.5 L1114.13,153 L1114.09,151.5 L1114.07,150 L1114.05,148.5 L1114.04,147 L1114.04,145.5 L1114.05,144 L1114.06,142.5 L1114.09,141 L1114.12,139.5 L1114.17,138 L1114.23,136.5 L1114.29,135 L1114.36,133.5 L1114.44,132 L1114.53,130.5 L1114.62,129 L1114.71,127.5 L1114.8,126 L1114.89,124.5 L1114.98,123 L1115.06,121.5 L1115.14,120 L1115.22,118.5 L1115.28,117 L1115.34,115.5 L1115.39,114 L1115.43,112.5 L1115.45,111 L1115.46,109.5 L1115.45,108 L1115.43,106.5 L1115.39,105 L1115.33,103.5 L1115.25,102 L1115.14,100.5 L1115.02,99 L1114.87,97.5 L1114.71,96 L1114.52,94.5 L1114.31,93 L1114.08,91.5 L1113.82,90 L1113.54,88.5 L1113.24,87 L1112.91,85.5 L1112.56,84 L1112.19,82.5 L1111.79,81 L1111.37,79.5 L1110.92,78 L1110.45,76.5 L1109.95,75 L1109.42,73.5 L1108.87,72 L1108.29,70.5 L1107.69,69 L1107.07,67.5 L1106.45,66 L1105.82,64.5 L1105.22,63 L1104.63,61.5 L1104.08,60 L1103.57,58.5 L1103.11,57 L1102.72,55.5 L1102.39,54 L1102.15,52.5 L1102,51 L1101.95,49.5 L1102.01,48 L1102.19,46.5 L1102.49,45 L1102.91,43.5 L1103.45,42 L1104.12,40.5 L1104.92,39 L1105.83,37.5 L1106.83,36 L1107.91,34.5 L1109.03,33 L1110.17,31.5 Z" fill="#88cdfb" stroke="#333" stroke-width="2.9" stroke-linejoin="round"/>
<path d="M1257.58,31.4 L1258.46,32.9 L1259.33,34.4 L1260.2,35.9 L1261.06,37.4 L1261.91,38.9 L1262.75,40.4 L1263.57,41.9 L1264.37,43.4 L1265.14,44.9 L1265.89,46.4 L1266.59,47.9 L1267.24,49.4 L1267.83,50.9 L1268.35,52.4 L1268.78,53.9 L1269.11,55.4 L1269.34,56.9 L1269.46,58.4 L1269.49,59.9 L1269.44,61.4 L1269.31,62.9 L1269.11,64.4 L1268.86,65.9 L1268.55,67.4 L1268.21,68.9 L1267.84,70.4 L1267.45,71.9 L1267.04,73.4 L1266.64,74.9 L1266.24,76.4 L1265.85,77.9 L1265.48,79.4 L1265.13,80.9 L1264.79,82.4 L1264.46,83.9 L1264.13,85.4 L1263.8,86.9 L1263.48,88.4 L1263.15,89.9 L1262.82,91.4 L1262.47,92.9 L1262.12,94.4 L1261.77,95.9 L1261.42,97.4 L1261.07,98.9 L1260.74,100.4 L1260.42,101.9 L1260.13,103.4 L1259.86,104.9 L1259.62,106.4 L1259.41,107.9 L1259.24,109.4 L1259.09,110.9 L1258.97,112.4 L1258.86,113.9 L1258.78,115.4 L1258.7,116.9 L1258.64,118.4 L1258.58,119.9 L1258.53,121.4 L1258.48,122.9 L1258.43,124.4 L1258.38,125.9 L1258.32,127.4 L1258.26,128.9 L1258.19,130.4 L1258.13,131.9 L1258.06,133.4 L1257.99,134.9 L1257.91,136.4 L1257.84,137.9 L1257.76,139.4 L1257.68,140.9 L1257.59,142.4 L1257.51,143.9 L1257.42,145.4 L1257.32,146.9 L1257.23,148.4 L1257.13,149.9 L1257.03,151.4 L1256.93,152.9 L1256.82,154.4 L1256.72,155.9 L1256.61,157.4 L1256.5,158.9 L1256.38,160.4 L1256.26,161.9 L1256.14,163.4 L1256.02,164.9 L1255.9,166.4 L1255.77,167.9 L1255.64,169.4 L1255.51,170.9 L1255.37,172.4 L1255.23,173.9 L1255.09,175.4 L1254.95,176.9 L1254.8,178.4 L1254.65,179.9 L1254.49,181.4 L1254.33,182.9 L1254.16,184.4 L1253.99,185.9 L1253.82,187.4 L1253.64,188.9 L1253.45,190.4 L1253.26,191.9 L1253.06,193.4 L1252.86,194.9 L1252.66,196.4 L1252.44,197.9 L1252.22,199.4 L1251.99,200.9 L1251.77,202.4 L1251.54,203.9 L1251.32,205.4 L1251.1,206.9 L1250.9,208.4 L1250.71,209.9 L1250.53,211.4 L1250.38,212.9 L1250.25,214.4 L1250.15,215.9 L1250.08,217.4 L1250.03,218.9 L1250,220.4 L1249.99,221.9 L1250,223.4 L1250.02,224.9 L1250.05,226.4 L1250.08,227.9 L1250.12,229.4 L1250.15,230.9 L1250.19,232.4 L1250.21,233.9 L1250.23,235.4 L1250.23,236.9 L1250.22,238.4 L1250.18,239.9 L1250.13,241.4 L1250.05,242.9 L1249.96,244.4 L1249.85,245.9 L1249.74,247.4 L1249.61,248.9 L1249.48,250.4 L1249.35,251.9 L1249.23,253.4 L1249.1,254.9 L1248.99,256.4 L1248.89,257.9 L1248.8,259.4 L1248.72,260.9 L1248.66,262.4 L1248.61,263.9 L1248.57,265.4 L1248.54,266.9 L1248.52,268.4 L1248.5,269.9 L1248.49,271.4 L1248.48,272.9 L1248.48,274.4 L1248.48,275.9 L1248.48,277.3 L1246.88,277.3 L1246.88,275.9 L1246.88,274.4 L1246.88,272.9 L1246.87,271.4 L1246.86,269.9 L1246.84,268.4 L1246.82,266.9 L1246.79,265.4 L1246.75,263.9 L1246.7,262.4 L1246.64,260.9 L1246.56,259.4 L1246.47,257.9 L1246.37,256.4 L1246.26,254.9 L1246.13,253.4 L1246.01,251.9 L1245.88,250.4 L1245.75,248.9 L1245.62,247.4 L1245.51,245.9 L1245.4,244.4 L1245.31,242.9 L1245.23,241.4 L1245.18,239.9 L1245.14,238.4 L1245.13,236.9 L1245.13,235.4 L1245.15,233.9 L1245.17,232.4 L1245.21,230.9 L1245.24,229.4 L1245.28,227.9 L1245.31,226.4 L1245.34,224.9 L1245.36,223.4 L1245.37,221.9 L1245.36,220.4 L1245.33,218.9 L1245.28,217.4 L1245.21,215.9 L1245.11,214.4 L1244.98,212.9 L1244.83,211.4 L1244.65,209.9 L1244.46,208.4 L1244.26,206.9 L1244.04,205.4 L1243.82,203.9 L1243.59,202.4 L1243.37,200.9 L1243.14,199.4 L1242.92,197.9 L1242.7,196.4 L1242.5,194.9 L1242.3,193.4 L1242.1,191.9 L1241.91,190.4 L1241.72,188.9 L1241.54,187.4 L1241.37,185.9 L1241.2,184.4 L1241.03,182.9 L1240.87,181.4 L1240.71,179.9 L1240.56,178.4 L1240.41,176.9 L1240.27,175.4 L1240.13,173.9 L1239.99,172.4 L1239.85,170.9 L1239.72,169.4 L1239.59,167.9 L1239.46,166.4 L1239.34,164.9 L1239.22,163.4 L1239.1,161.9 L1238.98,160.4 L1238.86,158.9 L1238.75,157.4 L1238.64,155.9 L1238.54,154.4 L1238.43,152.9 L1238.33,151.4 L1238.23,149.9 L1238.13,148.4 L1238.04,146.9 L1237.94,145.4 L1237.85,143.9 L1237.77,142.4 L1237.68,140.9 L1237.6,139.4 L1237.52,137.9 L1237.45,136.4 L1237.37,134.9 L1237.3,133.4 L1237.23,131.9 L1237.17,130.4 L1237.1,128.9 L1237.04,127.4 L1236.98,125.9 L1236.93,124.4 L1236.88,122.9 L1236.83,121.4 L1236.78,119.9 L1236.72,118.4 L1236.66,116.9 L1236.58,115.4 L1236.5,113.9 L1236.39,112.4 L1236.27,110.9 L1236.12,109.4 L1235.95,107.9 L1235.74,106.4 L1235.5,104.9 L1235.23,103.4 L1234.94,101.9 L1234.62,100.4 L1234.29,98.9 L1233.94,97.4 L1233.59,95.9 L1233.24,94.4 L1232.89,92.9 L1232.54,91.4 L1232.21,89.9 L1231.88,88.4 L1231.56,86.9 L1231.23,85.4 L1230.9,83.9 L1230.57,82.4 L1230.23,80.9 L1229.88,79.4 L1229.51,77.9 L1229.12,76.4 L1228.72,74.9 L1228.32,73.4 L1227.91,71.9 L1227.52,70.4 L1227.15,68.9 L1226.81,67.4 L1226.5,65.9 L1226.25,64.4 L1226.05,62.9 L1225.92,61.4 L1225.87,59.9 L1225.9,58.4 L1226.02,56.9 L1226.25,55.4 L1226.58,53.9 L1227.01,52.4 L1227.53,50.9 L1228.12,49.4 L1228.77,47.9 L1229.47,46.4 L1230.22,44.9 L1230.99,43.4 L1231.79,41.9 L1232.61,40.4 L1233.45,38.9 L1234.3,37.4 L1235.16,35.9 L1236.03,34.4 L1236.9,32.9 L1237.78,31.4 Z" fill="#88cdfb" stroke="#333" stroke-width="2.9" stroke-linejoin="round"/>
<path d="M1378.49,31.8 L1379.39,33.3 L1380.29,34.8 L1381.18,36.3 L1382.05,37.8 L1382.92,39.3 L1383.76,40.8 L1384.58,42.3 L1385.38,43.8 L1386.14,45.3 L1386.87,46.8 L1387.57,48.3 L1388.23,49.8 L1388.85,51.3 L1389.44,52.8 L1389.99,54.3 L1390.49,55.8 L1390.96,57.3 L1391.39,58.8 L1391.78,60.3 L1392.12,61.8 L1392.42,63.3 L1392.67,64.8 L1392.88,66.3 L1393.04,67.8 L1393.15,69.3 L1393.22,70.8 L1393.25,72.3 L1393.24,73.8 L1393.19,75.3 L1393.1,76.8 L1392.98,78.3 L1392.83,79.8 L1392.66,81.3 L1392.45,82.8 L1392.23,84.3 L1391.98,85.8 L1391.71,87.3 L1391.42,88.8 L1391.12,90.3 L1390.81,91.8 L1390.49,93.3 L1390.16,94.8 L1389.82,96.3 L1389.48,97.8 L1389.14,99.3 L1388.81,100.8 L1388.47,102.3 L1388.14,103.8 L1387.82,105.3 L1387.51,106.8 L1387.21,108.3 L1386.91,109.8 L1386.63,111.3 L1386.35,112.8 L1386.08,114.3 L1385.83,115.8 L1385.58,117.3 L1385.34,118.8 L1385.1,120.3 L1384.88,121.8 L1384.67,123.3 L1384.46,124.8 L1384.26,126.3 L1384.07,127.8 L1383.89,129.3 L1383.71,130.8 L1383.55,132.3 L1383.39,133.8 L1383.24,135.3 L1383.1,136.8 L1382.96,138.3 L1382.84,139.8 L1382.72,141.3 L1382.6,142.8 L1382.49,144.3 L1382.38,145.8 L1382.27,147.3 L1382.17,148.8 L1382.06,150.3 L1381.96,151.8 L1381.85,153.3 L1381.74,154.8 L1381.62,156.3 L1381.5,157.8 L1381.37,159.3 L1381.24,160.8 L1381.1,162.3 L1380.94,163.8 L1380.78,165.3 L1380.6,166.8 L1380.42,168.3 L1380.21,169.8 L1380,171.3 L1379.76,172.8 L1379.52,174.3 L1379.25,175.8 L1378.98,177.3 L1378.69,178.8 L1378.4,180.3 L1378.1,181.8 L1377.8,183.3 L1377.49,184.8 L1377.18,186.3 L1376.88,187.8 L1376.57,189.3 L1376.27,190.8 L1375.98,192.3 L1375.69,193.8 L1375.41,195.3 L1375.15,196.8 L1374.89,198.3 L1374.66,199.8 L1374.44,201.3 L1374.23,202.8 L1374.05,204.3 L1373.89,205.8 L1373.76,207.3 L1373.65,208.8 L1373.56,210.3 L1373.51,211.8 L1373.49,213.3 L1373.5,214.8 L1373.54,216.3 L1373.61,217.8 L1373.7,219.3 L1373.82,220.8 L1373.94,222.3 L1374.08,223.8 L1374.22,225.3 L1374.36,226.8 L1374.5,228.3 L1374.63,229.8 L1374.74,231.3 L1374.85,232.8 L1374.93,234.3 L1374.99,235.8 L1375.01,237.3 L1375.01,238.8 L1374.96,240.3 L1374.88,241.8 L1374.77,243.3 L1374.63,244.8 L1374.48,246.3 L1374.31,247.8 L1374.13,249.3 L1373.95,250.8 L1373.77,252.3 L1373.61,253.8 L1373.46,255.3 L1373.33,256.8 L1373.22,258.3 L1373.13,259.8 L1373.05,261.3 L1372.98,262.8 L1372.92,264.3 L1372.87,265.8 L1372.82,267.3 L1372.79,268.3 L1371.19,268.3 L1371.16,267.3 L1371.11,265.8 L1371.06,264.3 L1371,262.8 L1370.93,261.3 L1370.85,259.8 L1370.76,258.3 L1370.65,256.8 L1370.52,255.3 L1370.37,253.8 L1370.21,252.3 L1370.03,250.8 L1369.85,249.3 L1369.67,247.8 L1369.5,246.3 L1369.35,244.8 L1369.21,243.3 L1369.1,241.8 L1369.02,240.3 L1368.97,238.8 L1368.97,237.3 L1368.99,235.8 L1369.05,234.3 L1369.13,232.8 L1369.24,231.3 L1369.35,229.8 L1369.48,228.3 L1369.62,226.8 L1369.76,225.3 L1369.9,223.8 L1370.04,222.3 L1370.16,220.8 L1370.28,219.3 L1370.37,217.8 L1370.44,216.3 L1370.48,214.8 L1370.49,213.3 L1370.47,211.8 L1370.42,210.3 L1370.33,208.8 L1370.22,207.3 L1370.09,205.8 L1369.93,204.3 L1369.75,202.8 L1369.54,201.3 L1369.32,199.8 L1369.09,198.3 L1368.83,196.8 L1368.57,195.3 L1368.29,193.8 L1368,192.3 L1367.71,190.8 L1367.41,189.3 L1367.1,187.8 L1366.8,186.3 L1366.49,184.8 L1366.18,183.3 L1365.88,181.8 L1365.58,180.3 L1365.29,178.8 L1365,177.3 L1364.73,175.8 L1364.46,174.3 L1364.22,172.8 L1363.98,171.3 L1363.77,169.8 L1363.56,168.3 L1363.38,166.8 L1363.2,165.3 L1363.04,163.8 L1362.88,162.3 L1362.74,160.8 L1362.61,159.3 L1362.48,157.8 L1362.36,156.3 L1362.24,154.8 L1362.13,153.3 L1362.02,151.8 L1361.92,150.3 L1361.81,148.8 L1361.71,147.3 L1361.6,145.8 L1361.49,144.3 L1361.38,142.8 L1361.26,141.3 L1361.14,139.8 L1361.02,138.3 L1360.88,136.8 L1360.74,135.3 L1360.59,133.8 L1360.43,132.3 L1360.27,130.8 L1360.09,129.3 L1359.91,127.8 L1359.72,126.3 L1359.52,124.8 L1359.31,123.3 L1359.1,121.8 L1358.88,120.3 L1358.64,118.8 L1358.4,117.3 L1358.15,115.8 L1357.9,114.3 L1357.63,112.8 L1357.35,111.3 L1357.07,109.8 L1356.77,108.3 L1356.47,106.8 L1356.16,105.3 L1355.84,103.8 L1355.51,102.3 L1355.17,100.8 L1354.84,99.3 L1354.5,97.8 L1354.16,96.3 L1353.82,94.8 L1353.49,93.3 L1353.17,91.8 L1352.86,90.3 L1352.56,88.8 L1352.27,87.3 L1352,85.8 L1351.75,84.3 L1351.53,82.8 L1351.32,81.3 L1351.15,79.8 L1351,78.3 L1350.88,76.8 L1350.79,75.3 L1350.74,73.8 L1350.73,72.3 L1350.76,70.8 L1350.83,69.3 L1350.94,67.8 L1351.1,66.3 L1351.31,64.8 L1351.56,63.3 L1351.86,61.8 L1352.2,60.3 L1352.59,58.8 L1353.02,57.3 L1353.49,55.8 L1353.99,54.3 L1354.54,52.8 L1355.13,51.3 L1355.75,49.8 L1356.41,48.3 L1357.11,46.8 L1357.84,45.3 L1358.6,43.8 L1359.4,42.3 L1360.22,40.8 L1361.06,39.3 L1361.93,37.8 L1362.8,36.3 L1363.69,34.8 L1364.59,33.3 L1365.49,31.8 Z" fill="#88cdfb" stroke="#333" stroke-width="2.9" stroke-linejoin="round"/>
<circle cx="253.2" cy="149.5" r="25.9" fill="none" stroke="#000" stroke-width="1.8"/>
<circle cx="377.51" cy="149.5" r="25.9" fill="none" stroke="#000" stroke-width="1.8"/>
<circle cx="501.82" cy="145" r="25.9" fill="none" stroke="#000" stroke-width="1.8"/>
<circle cx="626.13" cy="135.6" r="25.9" fill="none" stroke="#000" stroke-width="1.8"/>
<circle cx="750.44" cy="120.2" r="25.9" fill="none" stroke="#000" stroke-width="1.8"/>
<circle cx="874.75" cy="105.5" r="25.9" fill="none" stroke="#000" stroke-width="1.8"/>
<circle cx="999.06" cy="96.5" r="25.9" fill="none" stroke="#000" stroke-width="1.8"/>
<circle cx="1123.37" cy="91.8" r="25.9" fill="none" stroke="#000" stroke-width="1.8"/>
<circle cx="1247.68" cy="95.2" r="25.9" fill="none" stroke="#000" stroke-width="1.8"/>
<circle cx="1371.99" cy="102.3" r="25.9" fill="none" stroke="#000" stroke-width="1.8"/>
<path d="M1447.7,17.6 L1447.7,296.2 L180.3,296.2" fill="none" stroke="#b8b8b8" stroke-width="2.2"/>
<rect x="179.3" y="16.6" width="1265.8" height="277" fill="none" stroke="#000" stroke-width="3"/>
<line x1="167.2" y1="31.1" x2="179.3" y2="31.1" stroke="#000" stroke-width="2.2" />
<text x="159" y="42.7" font-size="29" text-anchor="end" font-weight="normal" >1.0</text>
<line x1="167.2" y1="124.2" x2="179.3" y2="124.2" stroke="#000" stroke-width="2.2" />
<text x="159" y="135.8" font-size="29" text-anchor="end" font-weight="normal" >0.5</text>
<line x1="167.2" y1="217.3" x2="179.3" y2="217.3" stroke="#000" stroke-width="2.2" />
<text x="159" y="228.9" font-size="29" text-anchor="end" font-weight="normal" >0.0</text>
<line x1="252.3" y1="293.6" x2="252.3" y2="306.3" stroke="#000" stroke-width="2.4" />
<line x1="376.63" y1="293.6" x2="376.63" y2="306.3" stroke="#000" stroke-width="2.4" />
<line x1="500.96" y1="293.6" x2="500.96" y2="306.3" stroke="#000" stroke-width="2.4" />
<line x1="625.29" y1="293.6" x2="625.29" y2="306.3" stroke="#000" stroke-width="2.4" />
<line x1="749.62" y1="293.6" x2="749.62" y2="306.3" stroke="#000" stroke-width="2.4" />
<line x1="873.95" y1="293.6" x2="873.95" y2="306.3" stroke="#000" stroke-width="2.4" />
<line x1="998.28" y1="293.6" x2="998.28" y2="306.3" stroke="#000" stroke-width="2.4" />
<line x1="1122.61" y1="293.6" x2="1122.61" y2="306.3" stroke="#000" stroke-width="2.4" />
<line x1="1246.94" y1="293.6" x2="1246.94" y2="306.3" stroke="#000" stroke-width="2.4" />
<line x1="1371.27" y1="293.6" x2="1371.27" y2="306.3" stroke="#000" stroke-width="2.4" />
<text x="61.5" y="154.5" font-size="29" text-anchor="middle" transform="rotate(-90 61.5 154.5)">Prediction to DIA</text>
<text x="97.6" y="154.5" font-size="29" text-anchor="middle" transform="rotate(-90 97.6 154.5)">correlation coeff.</text>
<line x1="252.1" y1="307.5" x2="252.1" y2="936.3" stroke="#c2c2c2" stroke-width="2.4" stroke-dasharray="7.5 3"/>
<line x1="376.43" y1="307.5" x2="376.43" y2="936.3" stroke="#c2c2c2" stroke-width="2.4" stroke-dasharray="7.5 3"/>
<line x1="500.76" y1="307.5" x2="500.76" y2="936.3" stroke="#c2c2c2" stroke-width="2.4" stroke-dasharray="7.5 3"/>
<line x1="625.09" y1="307.5" x2="625.09" y2="936.3" stroke="#c2c2c2" stroke-width="2.4" stroke-dasharray="7.5 3"/>
<line x1="749.42" y1="307.5" x2="749.42" y2="936.3" stroke="#c2c2c2" stroke-width="2.4" stroke-dasharray="7.5 3"/>
<line x1="873.75" y1="307.5" x2="873.75" y2="936.3" stroke="#c2c2c2" stroke-width="2.4" stroke-dasharray="7.5 3"/>
<line x1="998.08" y1="307.5" x2="998.08" y2="936.3" stroke="#c2c2c2" stroke-width="2.4" stroke-dasharray="7.5 3"/>
<line x1="1122.41" y1="307.5" x2="1122.41" y2="936.3" stroke="#c2c2c2" stroke-width="2.4" stroke-dasharray="7.5 3"/>
<line x1="1246.74" y1="307.5" x2="1246.74" y2="936.3" stroke="#c2c2c2" stroke-width="2.4" stroke-dasharray="7.5 3"/>
<line x1="1371.07" y1="307.5" x2="1371.07" y2="936.3" stroke="#c2c2c2" stroke-width="2.4" stroke-dasharray="7.5 3"/>
<rect x="207.9" y="474" width="87" height="91.3" fill="#98d7fb"/>
<rect x="332.5" y="471" width="87" height="94.3" fill="#98d7fb"/>
<rect x="457.1" y="465" width="87" height="100.3" fill="#98d7fb"/>
<rect x="581.7" y="447" width="87" height="118.3" fill="#98d7fb"/>
<rect x="706.3" y="429" width="87" height="136.3" fill="#98d7fb"/>
<rect x="830.9" y="409.5" width="87" height="155.8" fill="#98d7fb"/>
<rect x="955.5" y="395.5" width="87" height="169.8" fill="#98d7fb"/>
<rect x="1080.1" y="386.5" width="87" height="178.8" fill="#98d7fb"/>
<rect x="1204.7" y="390" width="87" height="175.3" fill="#98d7fb"/>
<rect x="1329.3" y="401" width="87" height="164.3" fill="#98d7fb"/>
<line x1="189.4" y1="385.4" x2="189.4" y2="566.5" stroke="#000" stroke-width="2.6" />
<line x1="188.2" y1="565.3" x2="1435" y2="565.3" stroke="#000" stroke-width="2.6" />
<line x1="184.2" y1="427.3" x2="199.3" y2="427.3" stroke="#000" stroke-width="2.2" />
<line x1="184.2" y1="497" x2="199.3" y2="497" stroke="#000" stroke-width="2.2" />
<line x1="184.2" y1="565.3" x2="189.4" y2="565.3" stroke="#000" stroke-width="2.2" />
<line x1="187.6" y1="400.5" x2="194.4" y2="400.5" stroke="#000" stroke-width="2" />
<line x1="187.6" y1="412.6" x2="194.4" y2="412.6" stroke="#000" stroke-width="2" />
<line x1="187.6" y1="441.7" x2="194.4" y2="441.7" stroke="#000" stroke-width="2" />
<line x1="187.6" y1="456.2" x2="194.4" y2="456.2" stroke="#000" stroke-width="2" />
<line x1="187.6" y1="468.3" x2="194.4" y2="468.3" stroke="#000" stroke-width="2" />
<line x1="187.6" y1="482.7" x2="194.4" y2="482.7" stroke="#000" stroke-width="2" />
<line x1="187.6" y1="511.7" x2="194.4" y2="511.7" stroke="#000" stroke-width="2" />
<line x1="187.6" y1="523.7" x2="194.4" y2="523.7" stroke="#000" stroke-width="2" />
<line x1="187.6" y1="538.2" x2="194.4" y2="538.2" stroke="#000" stroke-width="2" />
<line x1="187.6" y1="552.7" x2="194.4" y2="552.7" stroke="#000" stroke-width="2" />
<line x1="252.3" y1="555.4" x2="252.3" y2="569" stroke="#000" stroke-width="2.4" />
<line x1="376.63" y1="555.4" x2="376.63" y2="569" stroke="#000" stroke-width="2.4" />
<line x1="500.96" y1="555.4" x2="500.96" y2="569" stroke="#000" stroke-width="2.4" />
<line x1="625.29" y1="555.4" x2="625.29" y2="569" stroke="#000" stroke-width="2.4" />
<line x1="749.62" y1="555.4" x2="749.62" y2="569" stroke="#000" stroke-width="2.4" />
<line x1="873.95" y1="555.4" x2="873.95" y2="569" stroke="#000" stroke-width="2.4" />
<line x1="998.28" y1="555.4" x2="998.28" y2="569" stroke="#000" stroke-width="2.4" />
<line x1="1122.61" y1="555.4" x2="1122.61" y2="569" stroke="#000" stroke-width="2.4" />
<line x1="1246.94" y1="555.4" x2="1246.94" y2="569" stroke="#000" stroke-width="2.4" />
<line x1="1371.27" y1="555.4" x2="1371.27" y2="569" stroke="#000" stroke-width="2.4" />
<text x="173" y="439.7" font-size="29" text-anchor="end" font-weight="normal" >60,000</text>
<text x="173" y="509.6" font-size="29" text-anchor="end" font-weight="normal" >50,000</text>
<text x="173" y="576.5" font-size="29" text-anchor="end" font-weight="normal" >40,000</text>
<text x="24.8" y="490" font-size="29" text-anchor="middle" transform="rotate(-90 24.8 490)"># GPF-DIA</text>
<text x="60.2" y="490" font-size="29" text-anchor="middle" transform="rotate(-90 60.2 490)">peptides</text>
<line x1="188.6" y1="687.7" x2="188.6" y2="937.5" stroke="#000" stroke-width="2.4" />
<line x1="187.4" y1="936.3" x2="1435" y2="936.3" stroke="#000" stroke-width="2.4" />
<line x1="184" y1="687.7" x2="199" y2="687.7" stroke="#000" stroke-width="2.2" />
<line x1="184" y1="814" x2="199" y2="814" stroke="#000" stroke-width="2.2" />
<line x1="184" y1="936.3" x2="188.6" y2="936.3" stroke="#000" stroke-width="2.2" />
<line x1="188.6" y1="711.6" x2="194.2" y2="711.6" stroke="#000" stroke-width="2" />
<line x1="188.6" y1="738.4" x2="194.2" y2="738.4" stroke="#000" stroke-width="2" />
<line x1="188.6" y1="762.3" x2="194.2" y2="762.3" stroke="#000" stroke-width="2" />
<line x1="188.6" y1="787.2" x2="194.2" y2="787.2" stroke="#000" stroke-width="2" />
<line x1="188.6" y1="836.9" x2="194.2" y2="836.9" stroke="#000" stroke-width="2" />
<line x1="188.6" y1="861.7" x2="194.2" y2="861.7" stroke="#000" stroke-width="2" />
<line x1="188.6" y1="887.6" x2="194.2" y2="887.6" stroke="#000" stroke-width="2" />
<line x1="188.6" y1="911.5" x2="194.2" y2="911.5" stroke="#000" stroke-width="2" />
<line x1="252.3" y1="926.7" x2="252.3" y2="940.7" stroke="#000" stroke-width="2.2" />
<line x1="376.63" y1="926.7" x2="376.63" y2="940.7" stroke="#000" stroke-width="2.2" />
<line x1="500.96" y1="926.7" x2="500.96" y2="940.7" stroke="#000" stroke-width="2.2" />
<line x1="625.29" y1="926.7" x2="625.29" y2="940.7" stroke="#000" stroke-width="2.2" />
<line x1="749.62" y1="926.7" x2="749.62" y2="940.7" stroke="#000" stroke-width="2.2" />
<line x1="873.95" y1="926.7" x2="873.95" y2="940.7" stroke="#000" stroke-width="2.2" />
<line x1="998.28" y1="926.7" x2="998.28" y2="940.7" stroke="#000" stroke-width="2.2" />
<line x1="1122.61" y1="926.7" x2="1122.61" y2="940.7" stroke="#000" stroke-width="2.2" />
<line x1="1246.94" y1="926.7" x2="1246.94" y2="940.7" stroke="#000" stroke-width="2.2" />
<line x1="1371.27" y1="926.7" x2="1371.27" y2="940.7" stroke="#000" stroke-width="2.2" />
<text x="171.5" y="699.6" font-size="29" text-anchor="end" font-weight="normal" >100%</text>
<text x="171.5" y="824" font-size="29" text-anchor="end" font-weight="normal" >90%</text>
<text x="171.5" y="946.3" font-size="29" text-anchor="end" font-weight="normal" >80%</text>
<text x="37.8" y="812.5" font-size="29" text-anchor="middle" transform="rotate(-90 37.8 812.5)">% peptides detected</text>
<text x="73.6" y="812.5" font-size="29" text-anchor="middle" transform="rotate(-90 73.6 812.5)">w/ single-injection DIA</text>
<text x="252.3" y="979.4" font-size="29" text-anchor="middle" font-weight="normal" >NCE</text>
<text x="252.3" y="1014.5" font-size="29" text-anchor="middle" font-weight="normal" >15</text>
<text x="376.63" y="979.4" font-size="29" text-anchor="middle" font-weight="normal" >NCE</text>
<text x="376.63" y="1014.5" font-size="29" text-anchor="middle" font-weight="normal" >18</text>
<text x="500.96" y="979.4" font-size="29" text-anchor="middle" font-weight="normal" >NCE</text>
<text x="500.96" y="1014.5" font-size="29" text-anchor="middle" font-weight="normal" >21</text>
<text x="625.29" y="979.4" font-size="29" text-anchor="middle" font-weight="normal" >NCE</text>
<text x="625.29" y="1014.5" font-size="29" text-anchor="middle" font-weight="normal" >24</text>
<text x="749.62" y="979.4" font-size="29" text-anchor="middle" font-weight="normal" >NCE</text>
<text x="749.62" y="1014.5" font-size="29" text-anchor="middle" font-weight="normal" >27</text>
<text x="873.95" y="979.4" font-size="29" text-anchor="middle" font-weight="normal" >NCE</text>
<text x="873.95" y="1014.5" font-size="29" text-anchor="middle" font-weight="normal" >30</text>
<text x="998.28" y="979.4" font-size="29" text-anchor="middle" font-weight="normal" >NCE</text>
<text x="998.28" y="1014.5" font-size="29" text-anchor="middle" font-weight="normal" >33</text>
<text x="1122.61" y="979.4" font-size="29" text-anchor="middle" font-weight="normal" >NCE</text>
<text x="1122.61" y="1014.5" font-size="29" text-anchor="middle" font-weight="normal" >36</text>
<text x="1246.94" y="979.4" font-size="29" text-anchor="middle" font-weight="normal" >NCE</text>
<text x="1246.94" y="1014.5" font-size="29" text-anchor="middle" font-weight="normal" >39</text>
<text x="1371.27" y="979.4" font-size="29" text-anchor="middle" font-weight="normal" >NCE</text>
<text x="1371.27" y="1014.5" font-size="29" text-anchor="middle" font-weight="normal" >42</text>
<polyline points="252.3,804.5 376.63,791 500.96,781 625.29,750.2 749.62,730.2 873.95,708.8 998.28,694 1122.61,691 1246.94,687.9 1371.27,695.8" fill="none" stroke="#4395f8" stroke-width="6" stroke-linejoin="round"/>
<circle cx="252.3" cy="804.5" r="12.2" fill="#4395f8"/>
<circle cx="376.63" cy="791" r="12.2" fill="#4395f8"/>
<circle cx="500.96" cy="781" r="12.2" fill="#4395f8"/>
<circle cx="625.29" cy="750.2" r="12.2" fill="#4395f8"/>
<circle cx="749.62" cy="730.2" r="12.2" fill="#4395f8"/>
<circle cx="873.95" cy="708.8" r="12.2" fill="#4395f8"/>
<circle cx="998.28" cy="694" r="12.2" fill="#4395f8"/>
<circle cx="1122.61" cy="691" r="12.2" fill="#4395f8"/>
<circle cx="1246.94" cy="687.9" r="12.2" fill="#4395f8"/>
<circle cx="1371.27" cy="695.8" r="12.2" fill="#4395f8"/>
<polyline points="252.3,936.3 376.63,927.4 500.96,910.8 625.29,861.2 749.62,804.7 873.95,751.2 998.28,715.7 1122.61,688 1246.94,701.9 1371.27,726" fill="none" stroke="#cf4a23" stroke-width="6" stroke-dasharray="11.5 5"/>
<circle cx="252.3" cy="936.3" r="12.2" fill="#cf4a23"/>
<circle cx="376.63" cy="927.4" r="12.2" fill="#cf4a23"/>
<circle cx="500.96" cy="910.8" r="12.2" fill="#cf4a23"/>
<circle cx="625.29" cy="861.2" r="12.2" fill="#cf4a23"/>
<circle cx="749.62" cy="804.7" r="12.2" fill="#cf4a23"/>
<circle cx="873.95" cy="751.2" r="12.2" fill="#cf4a23"/>
<circle cx="998.28" cy="715.7" r="12.2" fill="#cf4a23"/>
<circle cx="1122.61" cy="688" r="12.2" fill="#cf4a23"/>
<circle cx="1246.94" cy="701.9" r="12.2" fill="#cf4a23"/>
<circle cx="1371.27" cy="726" r="12.2" fill="#cf4a23"/>
<rect x="847.5" y="786.7" width="453.2" height="123.6" fill="#fff" stroke="#000" stroke-width="3"/>
<circle cx="888.5" cy="822.5" r="15.2" fill="#cf4a23"/>
<circle cx="888.5" cy="876" r="15.2" fill="#4395f8"/>
<text x="916" y="832" font-size="29" text-anchor="start" font-weight="normal" >Predicted library</text>
<text x="916" y="884.6" font-size="29" text-anchor="start" font-weight="normal" >Empirically-corrected library</text>
<rect x="428.2" y="1106.6" width="481.8" height="53.4" fill="#c96640"/>
<rect x="428.2" y="1202.1" width="533.6" height="53.4" fill="#c897f9"/>
<rect x="428.2" y="1297.3" width="586.5" height="53.4" fill="#c897f9"/>
<rect x="428.2" y="1392.8" width="604.8" height="53.4" fill="#c897f9"/>
<rect x="428.2" y="1488.3" width="661.3" height="53.4" fill="#6aa8f6"/>
<line x1="428.2" y1="1084.9" x2="428.2" y2="1565" stroke="#000" stroke-width="2.2" />
<line x1="427.2" y1="1562.2" x2="1129" y2="1562.2" stroke="#000" stroke-width="2.2" />
<line x1="504.28" y1="1553.8" x2="504.28" y2="1562.2" stroke="#000" stroke-width="2" />
<line x1="580.36" y1="1553.8" x2="580.36" y2="1562.2" stroke="#000" stroke-width="2" />
<line x1="656.44" y1="1553.8" x2="656.44" y2="1562.2" stroke="#000" stroke-width="2" />
<line x1="732.52" y1="1553.8" x2="732.52" y2="1562.2" stroke="#000" stroke-width="2" />
<line x1="808.6" y1="1553.8" x2="808.6" y2="1562.2" stroke="#000" stroke-width="2" />
<line x1="884.68" y1="1553.8" x2="884.68" y2="1562.2" stroke="#000" stroke-width="2" />
<line x1="960.76" y1="1553.8" x2="960.76" y2="1562.2" stroke="#000" stroke-width="2" />
<line x1="1036.84" y1="1553.8" x2="1036.84" y2="1562.2" stroke="#000" stroke-width="2" />
<line x1="1112.92" y1="1553.8" x2="1112.92" y2="1562.2" stroke="#000" stroke-width="2" />
<line x1="424.5" y1="1133.3" x2="435.5" y2="1133.3" stroke="#000" stroke-width="2" />
<line x1="424.5" y1="1228.8" x2="435.5" y2="1228.8" stroke="#000" stroke-width="2" />
<line x1="424.5" y1="1324" x2="435.5" y2="1324" stroke="#000" stroke-width="2" />
<line x1="424.5" y1="1419.5" x2="435.5" y2="1419.5" stroke="#000" stroke-width="2" />
<line x1="424.5" y1="1515" x2="435.5" y2="1515" stroke="#000" stroke-width="2" />
<text x="428.2" y="1602.2" font-size="29" text-anchor="middle" font-weight="normal" >0</text>
<text x="580.36" y="1602.2" font-size="29" text-anchor="middle" font-weight="normal" >10,000</text>
<text x="732.52" y="1602.2" font-size="29" text-anchor="middle" font-weight="normal" >20,000</text>
<text x="884.68" y="1602.2" font-size="29" text-anchor="middle" font-weight="normal" >30,000</text>
<text x="1036.84" y="1602.2" font-size="29" text-anchor="middle" font-weight="normal" >40,000</text>
<text x="777.6" y="1651.8" font-size="29" text-anchor="middle" font-weight="normal" >Number of peptides detected</text>
<circle cx="915.2" cy="1133.2" r="7.4" fill="#fff" stroke="#000" stroke-width="3"/>
<circle cx="898.6" cy="1133.2" r="7.4" fill="#fff" stroke="#000" stroke-width="3"/>
<circle cx="924.3" cy="1133.2" r="7.4" fill="#fff" stroke="#000" stroke-width="3"/>
<circle cx="970.7" cy="1228.5" r="7.4" fill="#fff" stroke="#000" stroke-width="3"/>
<circle cx="947.7" cy="1228.5" r="7.4" fill="#fff" stroke="#000" stroke-width="3"/>
<circle cx="979.5" cy="1228.5" r="7.4" fill="#fff" stroke="#000" stroke-width="3"/>
<circle cx="1030.8" cy="1324" r="7.4" fill="#fff" stroke="#000" stroke-width="3"/>
<circle cx="994.1" cy="1324" r="7.4" fill="#fff" stroke="#000" stroke-width="3"/>
<circle cx="1039.8" cy="1324" r="7.4" fill="#fff" stroke="#000" stroke-width="3"/>
<circle cx="1044.9" cy="1419.6" r="7.4" fill="#fff" stroke="#000" stroke-width="3"/>
<circle cx="1015.6" cy="1419.6" r="7.4" fill="#fff" stroke="#000" stroke-width="3"/>
<circle cx="1055.9" cy="1419.6" r="7.4" fill="#fff" stroke="#000" stroke-width="3"/>
<circle cx="1067.8" cy="1515" r="7.4" fill="#fff" stroke="#000" stroke-width="3"/>
<circle cx="1060.9" cy="1515" r="7.4" fill="#fff" stroke="#000" stroke-width="3"/>
<circle cx="1108.8" cy="1515" r="7.4" fill="#fff" stroke="#000" stroke-width="3"/>
<circle cx="1120.2" cy="1515" r="7.4" fill="#fff" stroke="#000" stroke-width="3"/>
<text x="408.3" y="1143.3" font-size="29.2" text-anchor="end" font-weight="normal" >Full predicted library</text>
<text x="408.3" y="1219.6" font-size="29.2" text-anchor="end" font-weight="normal" >Partially-corrected library</text>
<text x="408.3" y="1254.3" font-size="29.2" text-anchor="end" font-weight="normal" >+ Filtering</text>
<text x="408.3" y="1314.8" font-size="29.2" text-anchor="end" font-weight="normal" >Partially-corrected library</text>
<text x="408.3" y="1349.4" font-size="29.2" text-anchor="end" font-weight="normal" >+ Filtering + Fragmentation</text>
<text x="408.3" y="1411.2" font-size="29.2" text-anchor="end" font-weight="normal" >Partially-corrected library</text>
<text x="408.3" y="1445.6" font-size="29.2" text-anchor="end" font-weight="normal" >+ Filtering + Retention times</text>
<text x="408.3" y="1486.4" font-size="29.2" text-anchor="end" font-weight="normal" >Empirically-corrected library</text>
<text x="408.3" y="1522" font-size="29.2" text-anchor="end" font-weight="normal" >(+ Filtering + Fragmentation</text>
<text x="408.3" y="1556.6" font-size="29.2" text-anchor="end" font-weight="normal" >+ Retention times)</text>
<path d="M992.9,1126 Q1009.4,1126 1009.4,1142.5 L1009.4,1159.35 Q1009.4,1174.2 1024,1174.2 Q1009.4,1174.2 1009.4,1189.05 L1009.4,1205.9 Q1009.4,1222.4 992.9,1222.4" fill="none" stroke="#000" stroke-width="4"/>
<path d="M1056,1224.8 Q1071.5,1224.8 1071.5,1240.3 L1071.5,1258.35 Q1071.5,1272.3 1087.7,1272.3 Q1071.5,1272.3 1071.5,1286.25 L1071.5,1304.3 Q1071.5,1319.8 1056,1319.8" fill="none" stroke="#000" stroke-width="4"/>
<path d="M1182.4,1224 Q1198,1224 1198,1239.6 L1198,1304.86 Q1198,1318.9 1213.9,1318.9 Q1198,1318.9 1198,1332.94 L1198,1398.8 Q1198,1414.4 1182.4,1414.4" fill="none" stroke="#000" stroke-width="4"/>
<path d="M1306,1127.5 Q1321.2,1127.5 1321.2,1142.7 L1321.2,1306.12 Q1321.2,1319.8 1335.7,1319.8 Q1321.2,1319.8 1321.2,1333.48 L1321.2,1497.5 Q1321.2,1512.7 1306,1512.7" fill="none" stroke="#000" stroke-width="4"/>
<text x="1036.5" y="1185.6" font-size="29" text-anchor="start" font-weight="normal" >+11%</text>
<text x="1099.4" y="1283.7" font-size="29" text-anchor="start" font-weight="normal" >+10%</text>
<text x="1223.6" y="1330.9" font-size="29" text-anchor="start" font-weight="normal" >+13%</text>
<text x="1341.4" y="1330.9" font-size="29" text-anchor="start" font-weight="normal" >+37%</text>
</svg>
</body></html>
